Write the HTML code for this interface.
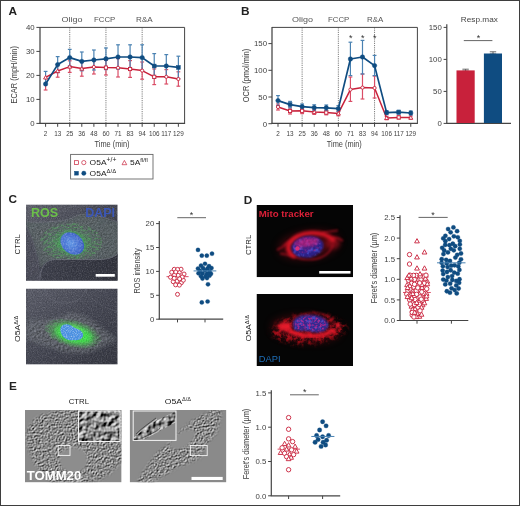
<!DOCTYPE html>
<html><head><meta charset="utf-8"><title>Figure</title>
<style>
html,body{margin:0;padding:0;background:#fff;}
body{width:520px;height:506px;overflow:hidden;position:relative;}
svg{color-interpolation-filters:sRGB;display:block;position:absolute;left:0;top:0;font-family:"Liberation Sans",sans-serif;}
#frame{position:absolute;left:0;top:0;width:520px;height:506px;box-sizing:border-box;border-style:solid;border-color:#3e3e3e;border-width:1px 1.4px 1.4px 1px;pointer-events:none;}
</style></head><body>
<svg width="520" height="506" viewBox="0 0 520 506">
<rect width="520" height="506" fill="#fff"/>
<defs>
  <filter id="blur05" x="-20%" y="-20%" width="140%" height="140%"><feGaussianBlur stdDeviation="0.6"/></filter>
  <filter id="blur1" x="-20%" y="-20%" width="140%" height="140%"><feGaussianBlur stdDeviation="1"/></filter>
  <filter id="blur2" x="-30%" y="-30%" width="160%" height="160%"><feGaussianBlur stdDeviation="2.2"/></filter>
  <filter id="blur4" x="-40%" y="-40%" width="180%" height="180%"><feGaussianBlur stdDeviation="4"/></filter>
  <filter id="blur6" x="-50%" y="-50%" width="200%" height="200%"><feGaussianBlur stdDeviation="6"/></filter>
  <!-- white / black grain -->
  <filter id="grainW" x="0" y="0" width="100%" height="100%">
    <feTurbulence type="fractalNoise" baseFrequency="0.8" numOctaves="2" seed="4" result="n"/>
    <feColorMatrix in="n" type="matrix" values="0 0 0 0 1  0 0 0 0 1  0 0 0 0 1  2.2 0 0 0 -0.95" result="c"/>
    <feComposite in="c" in2="SourceGraphic" operator="in"/>
  </filter>
  <filter id="grainK" x="0" y="0" width="100%" height="100%">
    <feTurbulence type="fractalNoise" baseFrequency="0.8" numOctaves="2" seed="9" result="n"/>
    <feColorMatrix in="n" type="matrix" values="0 0 0 0 0  0 0 0 0 0  0 0 0 0 0  2.2 0 0 0 -0.95" result="c"/>
    <feComposite in="c" in2="SourceGraphic" operator="in"/>
  </filter>
  <!-- streaky green fibres -->
  <filter id="fibG" x="0" y="0" width="100%" height="100%">
    <feTurbulence type="fractalNoise" baseFrequency="0.25 0.7" numOctaves="2" seed="21" result="n"/>
    <feColorMatrix in="n" type="matrix" values="0 0 0 0 0.33  0 0 0 0 0.75  0 0 0 0 0.36  5 0 0 0 -2.3" result="c"/>
    <feComposite in="c" in2="SourceGraphic" operator="in"/>
  </filter>
  <!-- embossed texture (DIC-like) -->
  <filter id="emboss" x="-5%" y="-5%" width="110%" height="110%" color-interpolation-filters="sRGB">
    <feTurbulence type="fractalNoise" baseFrequency="0.87" numOctaves="2" seed="12" result="n"/>
    <feDiffuseLighting in="n" surfaceScale="1.6" diffuseConstant="1" lighting-color="#ffffff" result="l">
      <feDistantLight azimuth="225" elevation="33"/>
    </feDiffuseLighting>
    <feGaussianBlur in="SourceAlpha" stdDeviation="1.6" result="m"/>
    <feComposite in="l" in2="m" operator="in"/>
  </filter>
  <filter id="embossC" x="-5%" y="-5%" width="110%" height="110%" color-interpolation-filters="sRGB">
    <feTurbulence type="fractalNoise" baseFrequency="0.45 0.6" numOctaves="2" seed="31" result="n"/>
    <feDiffuseLighting in="n" surfaceScale="1.6" diffuseConstant="1" lighting-color="#e8ecff" result="l">
      <feDistantLight azimuth="225" elevation="33"/>
    </feDiffuseLighting>
    <feGaussianBlur in="SourceAlpha" stdDeviation="2" result="m"/>
    <feComposite in="l" in2="m" operator="in"/>
  </filter>
  <filter id="embossBig" x="0" y="0" width="100%" height="100%" color-interpolation-filters="sRGB">
    <feTurbulence type="fractalNoise" baseFrequency="0.2" numOctaves="2" seed="5" result="n"/>
    <feDiffuseLighting in="n" surfaceScale="2.4" diffuseConstant="1" lighting-color="#ffffff" result="l">
      <feDistantLight azimuth="225" elevation="33"/>
    </feDiffuseLighting>
    <feComposite in="l" in2="SourceAlpha" operator="in"/>
  </filter>
  <filter id="redSpeck" x="-10%" y="-10%" width="120%" height="120%">
    <feTurbulence type="fractalNoise" baseFrequency="0.4" numOctaves="3" seed="3" result="n"/>
    <feColorMatrix in="n" type="matrix" values="0 0 0 0 0.95  0 0 0 0 0.1  0 0 0 0 0.2  3.2 0 0 0 -1.35" result="c"/>
    <feGaussianBlur in="SourceAlpha" stdDeviation="1.5" result="m"/>
    <feComposite in="c" in2="m" operator="in"/>
  </filter>
  <filter id="redBlob" x="-10%" y="-10%" width="120%" height="120%">
    <feTurbulence type="fractalNoise" baseFrequency="0.22" numOctaves="3" seed="14" result="n"/>
    <feColorMatrix in="n" type="matrix" values="0 0 0 0 0.78  0 0 0 0 0.06  0 0 0 0 0.1  4 0 0 0 -1.8" result="c"/>
    <feGaussianBlur in="SourceAlpha" stdDeviation="2" result="m"/>
    <feComposite in="c" in2="m" operator="in"/>
  </filter>
  <filter id="blueSpeck" x="-10%" y="-10%" width="120%" height="120%">
    <feTurbulence type="fractalNoise" baseFrequency="0.3" numOctaves="2" seed="17" result="n"/>
    <feColorMatrix in="n" type="matrix" values="0 0 0 0 0.36  0 0 0 0 0.4  0 0 0 0 0.95  3.6 0 0 0 -1.65" result="c"/>
    <feGaussianBlur in="SourceAlpha" stdDeviation="1" result="m"/>
    <feComposite in="c" in2="m" operator="in"/>
  </filter>
  <filter id="blur15" x="-30%" y="-30%" width="160%" height="160%"><feGaussianBlur stdDeviation="1.5"/></filter>
  <filter id="magSpeck" x="-10%" y="-10%" width="120%" height="120%">
    <feTurbulence type="fractalNoise" baseFrequency="0.45" numOctaves="2" seed="8" result="n"/>
    <feColorMatrix in="n" type="matrix" values="0 0 0 0 0.85  0 0 0 0 0.15  0 0 0 0 0.55  3.4 0 0 0 -1.5" result="c"/>
    <feComposite in="c" in2="SourceGraphic" operator="in"/>
  </filter>
  <radialGradient id="gC1" cx="50%" cy="50%" r="50%">
    <stop offset="0" stop-color="#45b855" stop-opacity=".95"/><stop offset=".38" stop-color="#4aa35a" stop-opacity=".62"/><stop offset=".7" stop-color="#55806a" stop-opacity=".2"/><stop offset="1" stop-color="#5a7a62" stop-opacity="0"/>
  </radialGradient>
  <radialGradient id="gC2" cx="50%" cy="50%" r="50%">
    <stop offset="0" stop-color="#3fe64a" stop-opacity="1"/><stop offset=".5" stop-color="#45c84e" stop-opacity=".8"/><stop offset="1" stop-color="#5a8a60" stop-opacity="0"/>
  </radialGradient>
  <radialGradient id="nucC" cx="45%" cy="55%" r="60%">
    <stop offset="0" stop-color="#5a92e4"/><stop offset=".7" stop-color="#4068cc"/><stop offset="1" stop-color="#3757ba"/>
  </radialGradient>
  <linearGradient id="bgC1" x1="0" y1="0" x2="1" y2="1">
    <stop offset="0" stop-color="#62646f"/><stop offset=".45" stop-color="#474955"/><stop offset="1" stop-color="#2c2e38"/>
  </linearGradient>
  <linearGradient id="bgC2" x1="0" y1="0" x2="1" y2="1">
    <stop offset="0" stop-color="#5c5e6a"/><stop offset=".5" stop-color="#454753"/><stop offset="1" stop-color="#353741"/>
  </linearGradient>
  <linearGradient id="dkC1" x1="0" y1="0" x2="1" y2="0">
    <stop offset="0" stop-color="#3e404c"/><stop offset="1" stop-color="#31333d"/>
  </linearGradient>
  <clipPath id="cC1"><rect x="26" y="204.4" width="91.7" height="76.4"/></clipPath>
  <clipPath id="cC2"><rect x="26" y="288.5" width="91.7" height="76.1"/></clipPath>
  <clipPath id="cD1"><rect x="256.5" y="205" width="96.5" height="72.2"/></clipPath>
  <clipPath id="cD2"><rect x="256.5" y="293.9" width="96.5" height="72.1"/></clipPath>
  <clipPath id="cE1"><rect x="25" y="409.9" width="96.6" height="72.5"/></clipPath>
  <clipPath id="cE2"><rect x="129.7" y="409.9" width="96.7" height="72.5"/></clipPath>
</defs>

<!-- ===== C1 ===== -->
<g clip-path="url(#cC1)">
  <rect x="26" y="204.4" width="91.7" height="76.4" fill="url(#bgC1)"/>
  <!-- cell body -->
  <path d="M26 221C34 223 42 222.5 52 221.5C62 221 70 220 77 215.5C86 212 100 216 117.7 222V257C112 261 108 263 104 263H60C50 262 44 262 41 268C38 258 34 240 26 226Z" fill="#566062" opacity=".9" filter="url(#blur1)"/>
  <path d="M26 221C34 223 42 222.5 52 221.5C62 221 70 220 77 215.5C86 212 100 216 117.7 222" fill="none" stroke="#7a7c88" stroke-width=".6" opacity=".8"/>
  <path d="M28 223C40 224 56 222 76 217C90 214 104 217 117.7 223V256C108 261 96 261 84 262H58C50 262 45 263 42 266C38 258 34 240 28 226Z" fill="#fff" filter="url(#embossC)" opacity=".13"/>
  <ellipse cx="71" cy="243" rx="34" ry="21" fill="url(#gC1)"/>
  <ellipse cx="71" cy="242" rx="31" ry="19" fill="#fff" filter="url(#fibG)" opacity=".4"/>
  <!-- dark neighbour at the bottom -->
  <path d="M40 280.8C40 268 45 259.5 56 259.5H100C108 259.5 114 257 117.7 254V280.8Z" fill="url(#dkC1)"/>
  <path d="M40 280.8C40 268 45 259.5 56 259.5H100C108 259.5 114 257 117.7 254" fill="none" stroke="#747684" stroke-width=".8" opacity=".8"/>
  <!-- left dark lobe -->
  <path d="M26 226C33 238 38 256 40 280.8H26Z" fill="#4c4e5a" opacity=".8"/>
  <path d="M26 226C33 238 38 256 40 280.8" fill="none" stroke="#6d6f7c" stroke-width=".6" opacity=".7"/>
  <rect x="26" y="204.4" width="91.7" height="76.4" fill="#fff" filter="url(#grainW)" opacity=".16"/>
  <rect x="26" y="204.4" width="91.7" height="76.4" fill="#000" filter="url(#grainK)" opacity=".2"/>
  <ellipse cx="72.3" cy="243.5" rx="13.4" ry="10.6" transform="rotate(38 72.3 243.5)" fill="#3fae58" opacity=".9" filter="url(#blur1)"/>
  <ellipse cx="72.3" cy="243.5" rx="12.8" ry="10.1" transform="rotate(38 72.3 243.5)" fill="url(#nucC)"/>
  <ellipse cx="72.3" cy="243.5" rx="12.8" ry="10.1" transform="rotate(38 72.3 243.5)" fill="#9fd8ff" filter="url(#grainW)" opacity=".45"/>
  <rect x="95.7" y="274" width="19.1" height="2.7" fill="#fff"/>
  <text x="31" y="216.7" font-size="12" font-weight="bold" fill="#6cc04a" textLength="27.2" lengthAdjust="spacingAndGlyphs">ROS</text>
  <text x="85.2" y="216.7" font-size="12" font-weight="bold" fill="#3c58b8" textLength="29.8" lengthAdjust="spacingAndGlyphs">DAPI</text>
</g>

<!-- ===== C2 ===== -->
<g clip-path="url(#cC2)">
  <rect x="26" y="288.5" width="91.7" height="76.1" fill="url(#bgC2)"/>
  <path d="M44 288.5C46 300 58 304 68 303C78 302 84 296 86 288.5" fill="none" stroke="#737582" stroke-width=".6" opacity=".7"/>
  <path d="M86 292C92 300 100 306 117.7 312" fill="none" stroke="#6a6c79" stroke-width=".6" opacity=".6"/>
  <path d="M26 321C38 318 52 322 64 315C76 309 90 318 102 328C108 333 114 337 117.7 339C108 344 98 351 84 353C66 355 46 347 26 339Z" fill="#62686c" opacity=".45" filter="url(#blur2)"/>
  <path d="M26 321C38 318 52 322 64 315C76 309 90 318 102 328C108 333 114 337 117.7 339C108 344 98 351 84 353C66 355 46 347 26 339Z" fill="#fff" filter="url(#embossC)" opacity=".26"/>
  <ellipse cx="73" cy="333.5" rx="30" ry="14" transform="rotate(14 73 333.5)" fill="url(#gC2)"/>
  <ellipse cx="74" cy="334.5" rx="19" ry="8.5" transform="rotate(14 74 334.5)" fill="#41ea4c" opacity=".85" filter="url(#blur2)"/>
  <ellipse cx="72" cy="331" rx="10" ry="4" transform="rotate(14 72 331)" fill="#c8ffb0" opacity=".55" filter="url(#blur2)"/>
  <ellipse cx="73" cy="333.5" rx="29" ry="13" transform="rotate(14 73 333.5)" fill="#fff" filter="url(#fibG)" opacity=".35"/>
  <rect x="26" y="288.5" width="91.7" height="76.1" fill="#fff" filter="url(#grainW)" opacity=".16"/>
  <rect x="26" y="288.5" width="91.7" height="76.1" fill="#000" filter="url(#grainK)" opacity=".2"/>
  <path d="M61 327C64 323 70 324 73 327C77 329 82 330 83 334C84 338 79 341 74 340C69 341 64 339 62 335C60 332 60 329 61 327Z" fill="#4a8fe0" filter="url(#blur05)"/>
  <path d="M61 327C64 323 70 324 73 327C77 329 82 330 83 334C84 338 79 341 74 340C69 341 64 339 62 335C60 332 60 329 61 327Z" fill="#b8ecff" filter="url(#grainW)" opacity=".55"/>
</g>

<!-- ===== D1 ===== -->
<g clip-path="url(#cD1)">
  <rect x="256.5" y="205" width="96.5" height="72.2" fill="#050505"/>
  <ellipse cx="309" cy="245" rx="30" ry="13" transform="rotate(-8 309 245)" fill="#8e0c18" opacity=".5" filter="url(#blur4)"/>
  <path d="M277 250C283 247 288 244 294 240M280 253.5C285 254 290 255 295 257M283 246C287 242 292 239 298 236.5M322 233C328 231.5 333 231 338 230.5M332 238C336 237.5 340 238.5 343 241" stroke="#b81222" stroke-width="2" fill="none" filter="url(#blur1)" opacity=".65"/>
  <ellipse cx="333" cy="243" rx="7" ry="6" fill="#c01424" opacity=".5" filter="url(#blur2)"/>
  <path d="M294 256C288 253 287 247 290 243C294 237 302 233.5 311 233C320 232.5 328 235 333 240" stroke="#dc1626" stroke-width="4.4" fill="none" stroke-linecap="round" filter="url(#blur15)" opacity=".92"/>
  <path d="M294 256C300 260 314 261 322 257C328 254 332 249 333 244" stroke="#a01020" stroke-width="1.6" fill="none" filter="url(#blur1)" opacity=".85"/>
  <ellipse cx="307.5" cy="246.8" rx="16" ry="10.6" transform="rotate(-8 307.5 246.8)" fill="#2b2188" filter="url(#blur1)"/>
  <ellipse cx="307.5" cy="247.5" rx="15" ry="9.6" transform="rotate(-8 307.5 247.5)" fill="#fff" filter="url(#blueSpeck)" opacity=".6"/>
  <ellipse cx="307" cy="242.5" rx="12" ry="4.6" transform="rotate(-8 307 242.5)" fill="#d61e6e" opacity=".6" filter="url(#blur15)"/>
  <ellipse cx="307" cy="245" rx="14" ry="8" transform="rotate(-8 307 245)" fill="#fff" filter="url(#magSpeck)" opacity=".45"/>
  <circle cx="297.5" cy="248.5" r="2.2" fill="#e8307a" opacity=".9" filter="url(#blur05)"/>
  <rect x="319.2" y="271" width="31.3" height="2.6" fill="#fff"/>
  <text x="258.8" y="216.5" font-size="8.6" font-weight="bold" fill="#dc2038" textLength="54.8" lengthAdjust="spacingAndGlyphs">Mito tracker</text>
</g>

<!-- ===== D2 ===== -->
<g clip-path="url(#cD2)">
  <rect x="256.5" y="293.9" width="96.5" height="72.1" fill="#050505"/>
  <ellipse cx="306" cy="329" rx="34" ry="12.5" transform="rotate(4 306 329)" fill="#7a0c16" opacity=".5" filter="url(#blur4)"/>
  <path d="M270 331C276 319 296 312 316 313C332 314 344 321 348 328C342 338 324 345 304 345C288 345 272 340 270 331Z" fill="#fff" filter="url(#redBlob)" opacity=".7"/>
  <path d="M274 331C280 321 296 316 316 316.5C330 317 340 322 343 329C338 337 322 342 304 342C290 342 276 338 274 331Z" fill="#fff" filter="url(#redSpeck)" opacity=".35"/>
  <ellipse cx="285" cy="326.5" rx="6.5" ry="4.2" fill="#ea1c2c" filter="url(#blur15)" opacity=".95"/>
  <path d="M289 331C296 334 304 336 312 336C320 336 328 334 334 330" stroke="#e41a2a" stroke-width="4.5" fill="none" stroke-linecap="round" filter="url(#blur15)" opacity=".95"/>
  <path d="M293 320C298 314 310 312 320 313.5C328 315 333 320 335 325" stroke="#a01020" stroke-width="1.6" fill="none" filter="url(#blur1)" opacity=".8"/>
  <circle cx="338.5" cy="325.5" r="2.2" fill="#e01c2c" filter="url(#blur1)" opacity=".9"/>
  <path d="M293 324C293 318 300 315 310 315C320 315 328 319 328 325C328 330 322 333 314 332C308 331 304 330 299 331C295 331 293 328 293 324Z" fill="#33288e" filter="url(#blur1)"/>
  <path d="M293 324C293 318 300 315 310 315C320 315 328 319 328 325C328 330 322 333 314 332C308 331 304 330 299 331C295 331 293 328 293 324Z" fill="#fff" filter="url(#blueSpeck)" opacity=".5"/>
  <path d="M295 324C295 319 301 316.5 310 316.5C319 316.5 326 320 326 325C326 329 321 331.5 314 330.5C308 329.5 304 329 299 329.5C296 329.5 295 327 295 324Z" fill="#fff" filter="url(#magSpeck)" opacity=".7"/>
  <text x="258.8" y="361.6" font-size="8.3" fill="#1f6fb8" textLength="21.8" lengthAdjust="spacingAndGlyphs">DAPI</text>
</g>

<!-- ===== E1 ===== -->
<g clip-path="url(#cE1)">
  <rect x="25" y="409.9" width="96.6" height="72.5" fill="#8a8a8a"/>
  <path d="M29 426C36 414 50 409.9 72 409.9H121.6V462C114 472 102 482.4 86 482.4H52C40 474 32 462 28 448C26 440 26 432 29 426Z" fill="#8a8a8a" filter="url(#emboss)"/>
  <ellipse cx="73.5" cy="460" rx="14" ry="12.6" fill="#8d8d8d" filter="url(#blur1)"/>
  <path d="M60 457C62 449.5 68 447 74.5 447.4C82.5 448 87.5 453.5 87.3 460" fill="none" stroke="#a4a4a4" stroke-width=".7"/>
  <rect x="78.5" y="411" width="41.5" height="30.5" fill="#8a8a8a" filter="url(#embossBig)"/>
  <rect x="78.5" y="411" width="41.5" height="30.5" fill="none" stroke="#f4f4f4" stroke-width="1"/>
  <rect x="58.2" y="445.5" width="11.8" height="9.9" fill="none" stroke="#f4f4f4" stroke-width=".9"/>
  <text x="26.8" y="480.3" font-size="12" font-weight="bold" fill="#fff" textLength="54.4" lengthAdjust="spacingAndGlyphs">TOMM20</text>
</g>

<!-- ===== E2 ===== -->
<g clip-path="url(#cE2)">
  <rect x="129.7" y="409.9" width="96.7" height="72.5" fill="#8a8a8a"/>
  <path d="M137 482.4C145 470 150 460 156 454C162 448 170 444 176 436C182 428 190 422 198 417C204 414 208 412 212 409.9H222C221 418 219 426 217 432C214 437 210 440 207 443C205 448 203 454 200 458C194 462 186 464 178 467C170 471 164 476 158 479L152 482.4Z" fill="#8a8a8a" filter="url(#emboss)"/>
  <ellipse cx="182.5" cy="439.5" rx="14.5" ry="7.6" transform="rotate(-33 182.5 439.5)" fill="#8d8d8d" filter="url(#blur1)"/>
  <rect x="133.2" y="411" width="42.8" height="29.4" fill="#8a8a8a"/>
  <path d="M133.2 438L150 424L176 411V422L160 431L142 440.4H133.2Z" fill="#8a8a8a" filter="url(#embossBig)"/>
  <path d="M136 434C142 428 148 424 156 418M142 438C150 434 156 432 160 428" stroke="#2a2a2a" stroke-width=".9" fill="none" opacity=".7"/>
  <path d="M137 435C143 429 149 425 157 419M143 439C151 435 157 433 161 429" stroke="#eee" stroke-width=".7" fill="none" opacity=".8"/>
  <rect x="133.2" y="411" width="42.8" height="29.4" fill="none" stroke="#f4f4f4" stroke-width="1"/>
  <rect x="190.4" y="445.5" width="16.8" height="10.1" fill="none" stroke="#f4f4f4" stroke-width=".9"/>
  <rect x="191.5" y="476.9" width="31.2" height="3.1" fill="#fff"/>
</g>

<text x="8.6" y="14.9" font-size="11.8" font-weight="bold" fill="#222">A</text>
<text x="241" y="14.9" font-size="11.8" font-weight="bold" fill="#222">B</text>
<text x="8.6" y="203.2" font-size="11.8" font-weight="bold" fill="#222">C</text>
<text x="243.8" y="203.8" font-size="11.8" font-weight="bold" fill="#222">D</text>
<text x="9.0" y="390.2" font-size="11.8" font-weight="bold" fill="#222">E</text>
<line x1="69.74" y1="27.40" x2="69.74" y2="123.40" stroke="#707070" stroke-width="0.9" stroke-dasharray="1.2 1"/>
<line x1="105.95" y1="27.40" x2="105.95" y2="123.40" stroke="#707070" stroke-width="0.9" stroke-dasharray="1.2 1"/>
<line x1="142.16" y1="27.40" x2="142.16" y2="123.40" stroke="#707070" stroke-width="0.9" stroke-dasharray="1.2 1"/>
<line x1="45.60" y1="77.40" x2="45.60" y2="90.00" stroke="#da4d66" stroke-width="1.2"/>
<line x1="43.70" y1="90.00" x2="47.50" y2="90.00" stroke="#da4d66" stroke-width="1.2"/>
<line x1="57.67" y1="64.80" x2="57.67" y2="77.20" stroke="#da4d66" stroke-width="1.2"/>
<line x1="55.77" y1="64.80" x2="59.57" y2="64.80" stroke="#da4d66" stroke-width="1.2"/>
<line x1="55.77" y1="77.20" x2="59.57" y2="77.20" stroke="#da4d66" stroke-width="1.2"/>
<line x1="69.74" y1="60.80" x2="69.74" y2="72.40" stroke="#da4d66" stroke-width="1.2"/>
<line x1="67.84" y1="60.80" x2="71.64" y2="60.80" stroke="#da4d66" stroke-width="1.2"/>
<line x1="67.84" y1="72.40" x2="71.64" y2="72.40" stroke="#da4d66" stroke-width="1.2"/>
<line x1="81.81" y1="61.00" x2="81.81" y2="76.20" stroke="#da4d66" stroke-width="1.2"/>
<line x1="79.91" y1="61.00" x2="83.71" y2="61.00" stroke="#da4d66" stroke-width="1.2"/>
<line x1="79.91" y1="76.20" x2="83.71" y2="76.20" stroke="#da4d66" stroke-width="1.2"/>
<line x1="93.88" y1="60.00" x2="93.88" y2="74.00" stroke="#da4d66" stroke-width="1.2"/>
<line x1="91.98" y1="60.00" x2="95.78" y2="60.00" stroke="#da4d66" stroke-width="1.2"/>
<line x1="91.98" y1="74.00" x2="95.78" y2="74.00" stroke="#da4d66" stroke-width="1.2"/>
<line x1="105.95" y1="60.20" x2="105.95" y2="75.00" stroke="#da4d66" stroke-width="1.2"/>
<line x1="104.05" y1="60.20" x2="107.85" y2="60.20" stroke="#da4d66" stroke-width="1.2"/>
<line x1="104.05" y1="75.00" x2="107.85" y2="75.00" stroke="#da4d66" stroke-width="1.2"/>
<line x1="118.02" y1="58.60" x2="118.02" y2="77.00" stroke="#da4d66" stroke-width="1.2"/>
<line x1="116.12" y1="58.60" x2="119.92" y2="58.60" stroke="#da4d66" stroke-width="1.2"/>
<line x1="116.12" y1="77.00" x2="119.92" y2="77.00" stroke="#da4d66" stroke-width="1.2"/>
<line x1="130.09" y1="60.60" x2="130.09" y2="77.40" stroke="#da4d66" stroke-width="1.2"/>
<line x1="128.19" y1="60.60" x2="131.99" y2="60.60" stroke="#da4d66" stroke-width="1.2"/>
<line x1="128.19" y1="77.40" x2="131.99" y2="77.40" stroke="#da4d66" stroke-width="1.2"/>
<line x1="142.16" y1="62.00" x2="142.16" y2="79.20" stroke="#da4d66" stroke-width="1.2"/>
<line x1="140.26" y1="62.00" x2="144.06" y2="62.00" stroke="#da4d66" stroke-width="1.2"/>
<line x1="140.26" y1="79.20" x2="144.06" y2="79.20" stroke="#da4d66" stroke-width="1.2"/>
<line x1="154.23" y1="69.00" x2="154.23" y2="84.60" stroke="#da4d66" stroke-width="1.2"/>
<line x1="152.33" y1="69.00" x2="156.13" y2="69.00" stroke="#da4d66" stroke-width="1.2"/>
<line x1="152.33" y1="84.60" x2="156.13" y2="84.60" stroke="#da4d66" stroke-width="1.2"/>
<line x1="166.30" y1="69.60" x2="166.30" y2="84.00" stroke="#da4d66" stroke-width="1.2"/>
<line x1="164.40" y1="69.60" x2="168.20" y2="69.60" stroke="#da4d66" stroke-width="1.2"/>
<line x1="164.40" y1="84.00" x2="168.20" y2="84.00" stroke="#da4d66" stroke-width="1.2"/>
<line x1="178.37" y1="71.80" x2="178.37" y2="86.20" stroke="#da4d66" stroke-width="1.2"/>
<line x1="176.47" y1="71.80" x2="180.27" y2="71.80" stroke="#da4d66" stroke-width="1.2"/>
<line x1="176.47" y1="86.20" x2="180.27" y2="86.20" stroke="#da4d66" stroke-width="1.2"/>
<line x1="45.60" y1="71.40" x2="45.60" y2="84.00" stroke="#4a82b2" stroke-width="1.2"/>
<line x1="43.70" y1="71.40" x2="47.50" y2="71.40" stroke="#4a82b2" stroke-width="1.2"/>
<line x1="57.67" y1="56.60" x2="57.67" y2="72.60" stroke="#4a82b2" stroke-width="1.2"/>
<line x1="55.77" y1="56.60" x2="59.57" y2="56.60" stroke="#4a82b2" stroke-width="1.2"/>
<line x1="55.77" y1="72.60" x2="59.57" y2="72.60" stroke="#4a82b2" stroke-width="1.2"/>
<line x1="69.74" y1="49.40" x2="69.74" y2="65.80" stroke="#4a82b2" stroke-width="1.2"/>
<line x1="67.84" y1="49.40" x2="71.64" y2="49.40" stroke="#4a82b2" stroke-width="1.2"/>
<line x1="67.84" y1="65.80" x2="71.64" y2="65.80" stroke="#4a82b2" stroke-width="1.2"/>
<line x1="81.81" y1="52.00" x2="81.81" y2="70.80" stroke="#4a82b2" stroke-width="1.2"/>
<line x1="79.91" y1="52.00" x2="83.71" y2="52.00" stroke="#4a82b2" stroke-width="1.2"/>
<line x1="79.91" y1="70.80" x2="83.71" y2="70.80" stroke="#4a82b2" stroke-width="1.2"/>
<line x1="93.88" y1="50.00" x2="93.88" y2="70.00" stroke="#4a82b2" stroke-width="1.2"/>
<line x1="91.98" y1="50.00" x2="95.78" y2="50.00" stroke="#4a82b2" stroke-width="1.2"/>
<line x1="91.98" y1="70.00" x2="95.78" y2="70.00" stroke="#4a82b2" stroke-width="1.2"/>
<line x1="105.95" y1="48.00" x2="105.95" y2="69.60" stroke="#4a82b2" stroke-width="1.2"/>
<line x1="104.05" y1="48.00" x2="107.85" y2="48.00" stroke="#4a82b2" stroke-width="1.2"/>
<line x1="104.05" y1="69.60" x2="107.85" y2="69.60" stroke="#4a82b2" stroke-width="1.2"/>
<line x1="118.02" y1="44.80" x2="118.02" y2="69.20" stroke="#4a82b2" stroke-width="1.2"/>
<line x1="116.12" y1="44.80" x2="119.92" y2="44.80" stroke="#4a82b2" stroke-width="1.2"/>
<line x1="116.12" y1="69.20" x2="119.92" y2="69.20" stroke="#4a82b2" stroke-width="1.2"/>
<line x1="130.09" y1="44.80" x2="130.09" y2="69.20" stroke="#4a82b2" stroke-width="1.2"/>
<line x1="128.19" y1="44.80" x2="131.99" y2="44.80" stroke="#4a82b2" stroke-width="1.2"/>
<line x1="128.19" y1="69.20" x2="131.99" y2="69.20" stroke="#4a82b2" stroke-width="1.2"/>
<line x1="142.16" y1="44.80" x2="142.16" y2="70.40" stroke="#4a82b2" stroke-width="1.2"/>
<line x1="140.26" y1="44.80" x2="144.06" y2="44.80" stroke="#4a82b2" stroke-width="1.2"/>
<line x1="140.26" y1="70.40" x2="144.06" y2="70.40" stroke="#4a82b2" stroke-width="1.2"/>
<line x1="154.23" y1="53.60" x2="154.23" y2="78.40" stroke="#4a82b2" stroke-width="1.2"/>
<line x1="152.33" y1="53.60" x2="156.13" y2="53.60" stroke="#4a82b2" stroke-width="1.2"/>
<line x1="152.33" y1="78.40" x2="156.13" y2="78.40" stroke="#4a82b2" stroke-width="1.2"/>
<line x1="166.30" y1="54.60" x2="166.30" y2="77.40" stroke="#4a82b2" stroke-width="1.2"/>
<line x1="164.40" y1="54.60" x2="168.20" y2="54.60" stroke="#4a82b2" stroke-width="1.2"/>
<line x1="164.40" y1="77.40" x2="168.20" y2="77.40" stroke="#4a82b2" stroke-width="1.2"/>
<line x1="178.37" y1="56.20" x2="178.37" y2="78.60" stroke="#4a82b2" stroke-width="1.2"/>
<line x1="176.47" y1="56.20" x2="180.27" y2="56.20" stroke="#4a82b2" stroke-width="1.2"/>
<line x1="176.47" y1="78.60" x2="180.27" y2="78.60" stroke="#4a82b2" stroke-width="1.2"/>
<polyline points="45.60,77.40 57.67,71.00 69.74,66.60 81.81,68.60 93.88,67.00 105.95,67.60 118.02,67.80 130.09,69.00 142.16,70.60 154.23,76.80 166.30,76.80 178.37,79.00" fill="none" stroke="#c8213b" stroke-width="1.5" stroke-linejoin="round"/>
<polyline points="45.60,84.00 57.67,64.60 69.74,57.60 81.81,61.40 93.88,60.00 105.95,58.80 118.02,57.00 130.09,57.00 142.16,57.60 154.23,66.00 166.30,66.00 178.37,67.40" fill="none" stroke="#0f4c81" stroke-width="1.7" stroke-linejoin="round"/>
<path d="M45.60 75.40L47.60 79.00L43.60 79.00Z" fill="#fff" stroke="#c8213b" stroke-width="0.9" stroke-linejoin="miter"/>
<path d="M57.67 69.00L59.67 72.60L55.67 72.60Z" fill="#fff" stroke="#c8213b" stroke-width="0.9" stroke-linejoin="miter"/>
<path d="M69.74 64.60L71.74 68.20L67.74 68.20Z" fill="#fff" stroke="#c8213b" stroke-width="0.9" stroke-linejoin="miter"/>
<path d="M81.81 66.60L83.81 70.20L79.81 70.20Z" fill="#fff" stroke="#c8213b" stroke-width="0.9" stroke-linejoin="miter"/>
<circle cx="93.88" cy="67.00" r="1.60" fill="#fff" stroke="#c8213b" stroke-width="0.9"/>
<rect x="104.35" y="66.00" width="3.20" height="3.20" fill="#fff" stroke="#c8213b" stroke-width="0.9"/>
<circle cx="118.02" cy="67.80" r="1.60" fill="#fff" stroke="#c8213b" stroke-width="0.9"/>
<rect x="128.49" y="67.40" width="3.20" height="3.20" fill="#fff" stroke="#c8213b" stroke-width="0.9"/>
<circle cx="142.16" cy="70.60" r="1.60" fill="#fff" stroke="#c8213b" stroke-width="0.9"/>
<rect x="152.63" y="75.20" width="3.20" height="3.20" fill="#fff" stroke="#c8213b" stroke-width="0.9"/>
<circle cx="166.30" cy="76.80" r="1.60" fill="#fff" stroke="#c8213b" stroke-width="0.9"/>
<circle cx="178.37" cy="79.00" r="1.60" fill="#fff" stroke="#c8213b" stroke-width="0.9"/>
<circle cx="45.60" cy="84.00" r="2.20" fill="#0f4c81" stroke="#0f4c81" stroke-width="0.5"/>
<circle cx="57.67" cy="64.60" r="2.20" fill="#0f4c81" stroke="#0f4c81" stroke-width="0.5"/>
<circle cx="69.74" cy="57.60" r="2.20" fill="#0f4c81" stroke="#0f4c81" stroke-width="0.5"/>
<circle cx="81.81" cy="61.40" r="2.20" fill="#0f4c81" stroke="#0f4c81" stroke-width="0.5"/>
<circle cx="93.88" cy="60.00" r="2.20" fill="#0f4c81" stroke="#0f4c81" stroke-width="0.5"/>
<circle cx="105.95" cy="58.80" r="2.20" fill="#0f4c81" stroke="#0f4c81" stroke-width="0.5"/>
<circle cx="118.02" cy="57.00" r="2.20" fill="#0f4c81" stroke="#0f4c81" stroke-width="0.5"/>
<circle cx="130.09" cy="57.00" r="2.20" fill="#0f4c81" stroke="#0f4c81" stroke-width="0.5"/>
<circle cx="142.16" cy="57.60" r="2.20" fill="#0f4c81" stroke="#0f4c81" stroke-width="0.5"/>
<rect x="152.33" y="64.10" width="3.80" height="3.80" fill="#0f4c81" stroke="#0f4c81" stroke-width="0.5"/>
<circle cx="166.30" cy="66.00" r="2.20" fill="#0f4c81" stroke="#0f4c81" stroke-width="0.5"/>
<rect x="176.47" y="65.50" width="3.80" height="3.80" fill="#0f4c81" stroke="#0f4c81" stroke-width="0.5"/>
<path d="M40.0 27.4H184.6V123.4" fill="none" stroke="#444444" stroke-width="1"/>
<line x1="40.00" y1="26.90" x2="40.00" y2="123.40" stroke="#444444" stroke-width="1.25"/>
<line x1="39.40" y1="123.40" x2="185.10" y2="123.40" stroke="#444444" stroke-width="1.25"/>
<line x1="36.40" y1="123.40" x2="40.00" y2="123.40" stroke="#444444" stroke-width="1"/>
<text transform="translate(34.60,126.20)" font-size="7.8" text-anchor="end" fill="#424242">0</text>
<line x1="36.40" y1="99.40" x2="40.00" y2="99.40" stroke="#444444" stroke-width="1"/>
<text transform="translate(34.60,102.20)" font-size="7.8" text-anchor="end" fill="#424242">10</text>
<line x1="36.40" y1="75.40" x2="40.00" y2="75.40" stroke="#444444" stroke-width="1"/>
<text transform="translate(34.60,78.20)" font-size="7.8" text-anchor="end" fill="#424242">20</text>
<line x1="36.40" y1="51.40" x2="40.00" y2="51.40" stroke="#444444" stroke-width="1"/>
<text transform="translate(34.60,54.20)" font-size="7.8" text-anchor="end" fill="#424242">30</text>
<line x1="36.40" y1="27.40" x2="40.00" y2="27.40" stroke="#444444" stroke-width="1"/>
<text transform="translate(34.60,30.20)" font-size="7.8" text-anchor="end" fill="#424242">40</text>
<line x1="45.60" y1="123.40" x2="45.60" y2="126.80" stroke="#444444" stroke-width="1"/>
<text transform="translate(45.60,135.80) scale(0.84,1)" font-size="7.6" text-anchor="middle" fill="#424242">2</text>
<line x1="57.67" y1="123.40" x2="57.67" y2="126.80" stroke="#444444" stroke-width="1"/>
<text transform="translate(57.67,135.80) scale(0.84,1)" font-size="7.6" text-anchor="middle" fill="#424242">13</text>
<line x1="69.74" y1="123.40" x2="69.74" y2="126.80" stroke="#444444" stroke-width="1"/>
<text transform="translate(69.74,135.80) scale(0.84,1)" font-size="7.6" text-anchor="middle" fill="#424242">25</text>
<line x1="81.81" y1="123.40" x2="81.81" y2="126.80" stroke="#444444" stroke-width="1"/>
<text transform="translate(81.81,135.80) scale(0.84,1)" font-size="7.6" text-anchor="middle" fill="#424242">36</text>
<line x1="93.88" y1="123.40" x2="93.88" y2="126.80" stroke="#444444" stroke-width="1"/>
<text transform="translate(93.88,135.80) scale(0.84,1)" font-size="7.6" text-anchor="middle" fill="#424242">48</text>
<line x1="105.95" y1="123.40" x2="105.95" y2="126.80" stroke="#444444" stroke-width="1"/>
<text transform="translate(105.95,135.80) scale(0.84,1)" font-size="7.6" text-anchor="middle" fill="#424242">60</text>
<line x1="118.02" y1="123.40" x2="118.02" y2="126.80" stroke="#444444" stroke-width="1"/>
<text transform="translate(118.02,135.80) scale(0.84,1)" font-size="7.6" text-anchor="middle" fill="#424242">71</text>
<line x1="130.09" y1="123.40" x2="130.09" y2="126.80" stroke="#444444" stroke-width="1"/>
<text transform="translate(130.09,135.80) scale(0.84,1)" font-size="7.6" text-anchor="middle" fill="#424242">83</text>
<line x1="142.16" y1="123.40" x2="142.16" y2="126.80" stroke="#444444" stroke-width="1"/>
<text transform="translate(142.16,135.80) scale(0.84,1)" font-size="7.6" text-anchor="middle" fill="#424242">94</text>
<line x1="154.23" y1="123.40" x2="154.23" y2="126.80" stroke="#444444" stroke-width="1"/>
<text transform="translate(154.23,135.80) scale(0.84,1)" font-size="7.6" text-anchor="middle" fill="#424242">106</text>
<line x1="166.30" y1="123.40" x2="166.30" y2="126.80" stroke="#444444" stroke-width="1"/>
<text transform="translate(166.30,135.80) scale(0.84,1)" font-size="7.6" text-anchor="middle" fill="#424242">117</text>
<line x1="178.37" y1="123.40" x2="178.37" y2="126.80" stroke="#444444" stroke-width="1"/>
<text transform="translate(178.37,135.80) scale(0.84,1)" font-size="7.6" text-anchor="middle" fill="#424242">129</text>
<text transform="translate(112.00,146.60) scale(0.88,1)" font-size="8.4" text-anchor="middle" fill="#424242">Time (min)</text>
<text transform="translate(17.40,74.80) rotate(-90) scale(0.887,1)" font-size="8.4" text-anchor="middle" fill="#424242">ECAR (mpH/min)</text>
<text transform="translate(71.90,22.00) scale(1.2,1)" font-size="7.5" text-anchor="middle" fill="#555">Oligo</text>
<text transform="translate(104.60,22.00) scale(1.05,1)" font-size="7.5" text-anchor="middle" fill="#555">FCCP</text>
<text transform="translate(144.40,22.00) scale(1.08,1)" font-size="7.5" text-anchor="middle" fill="#555">R&amp;A</text>
<rect x="70.6" y="154.4" width="82.4" height="24.6" fill="#fff" stroke="#666" stroke-width="0.9"/>
<rect x="74.60" y="160.70" width="3.80" height="3.80" fill="#fff" stroke="#c8213b" stroke-width="0.7"/>
<circle cx="83.80" cy="162.60" r="2.10" fill="#fff" stroke="#c8213b" stroke-width="0.7"/>
<rect x="74.60" y="171.30" width="3.80" height="3.80" fill="#0f4c81" stroke="#0f4c81" stroke-width="0.5"/>
<circle cx="83.80" cy="173.20" r="2.20" fill="#0f4c81" stroke="#0f4c81" stroke-width="0.3"/>
<text transform="translate(89.6,165.2) scale(1.06,1)" font-size="8" fill="#222">O5A<tspan dy="-2.9" font-size="6.4">+/+</tspan></text>
<path d="M124.40 160.43L126.78 164.70L122.03 164.70Z" fill="#fff" stroke="#c8213b" stroke-width="0.7" stroke-linejoin="miter"/>
<text transform="translate(130,165.2) scale(1.06,1)" font-size="8" fill="#222">5A<tspan dy="-2.9" font-size="5.4">fl/fl</tspan></text>
<text transform="translate(89.6,175.9) scale(1.06,1)" font-size="8" fill="#222">O5A<tspan dy="-2.9" font-size="5.6">Δ/Δ</tspan></text>
<line x1="302.14" y1="27.40" x2="302.14" y2="123.40" stroke="#707070" stroke-width="0.9" stroke-dasharray="1.2 1"/>
<line x1="338.35" y1="27.40" x2="338.35" y2="123.40" stroke="#707070" stroke-width="0.9" stroke-dasharray="1.2 1"/>
<line x1="374.56" y1="27.40" x2="374.56" y2="123.40" stroke="#707070" stroke-width="0.9" stroke-dasharray="1.2 1"/>
<line x1="278.00" y1="104.00" x2="278.00" y2="110.00" stroke="#da4d66" stroke-width="1.2"/>
<line x1="276.10" y1="104.00" x2="279.90" y2="104.00" stroke="#da4d66" stroke-width="1.2"/>
<line x1="276.10" y1="110.00" x2="279.90" y2="110.00" stroke="#da4d66" stroke-width="1.2"/>
<line x1="290.07" y1="108.00" x2="290.07" y2="114.00" stroke="#da4d66" stroke-width="1.2"/>
<line x1="288.17" y1="108.00" x2="291.97" y2="108.00" stroke="#da4d66" stroke-width="1.2"/>
<line x1="288.17" y1="114.00" x2="291.97" y2="114.00" stroke="#da4d66" stroke-width="1.2"/>
<line x1="302.14" y1="108.00" x2="302.14" y2="113.60" stroke="#da4d66" stroke-width="1.2"/>
<line x1="300.24" y1="108.00" x2="304.04" y2="108.00" stroke="#da4d66" stroke-width="1.2"/>
<line x1="300.24" y1="113.60" x2="304.04" y2="113.60" stroke="#da4d66" stroke-width="1.2"/>
<line x1="314.21" y1="109.60" x2="314.21" y2="114.40" stroke="#da4d66" stroke-width="1.2"/>
<line x1="312.31" y1="109.60" x2="316.11" y2="109.60" stroke="#da4d66" stroke-width="1.2"/>
<line x1="312.31" y1="114.40" x2="316.11" y2="114.40" stroke="#da4d66" stroke-width="1.2"/>
<line x1="326.28" y1="110.40" x2="326.28" y2="114.80" stroke="#da4d66" stroke-width="1.2"/>
<line x1="324.38" y1="110.40" x2="328.18" y2="110.40" stroke="#da4d66" stroke-width="1.2"/>
<line x1="324.38" y1="114.80" x2="328.18" y2="114.80" stroke="#da4d66" stroke-width="1.2"/>
<line x1="338.35" y1="111.00" x2="338.35" y2="115.80" stroke="#da4d66" stroke-width="1.2"/>
<line x1="336.45" y1="111.00" x2="340.25" y2="111.00" stroke="#da4d66" stroke-width="1.2"/>
<line x1="336.45" y1="115.80" x2="340.25" y2="115.80" stroke="#da4d66" stroke-width="1.2"/>
<line x1="350.42" y1="77.00" x2="350.42" y2="101.40" stroke="#da4d66" stroke-width="1.2"/>
<line x1="348.52" y1="77.00" x2="352.32" y2="77.00" stroke="#da4d66" stroke-width="1.2"/>
<line x1="348.52" y1="101.40" x2="352.32" y2="101.40" stroke="#da4d66" stroke-width="1.2"/>
<line x1="362.49" y1="74.00" x2="362.49" y2="99.00" stroke="#da4d66" stroke-width="1.2"/>
<line x1="360.59" y1="74.00" x2="364.39" y2="74.00" stroke="#da4d66" stroke-width="1.2"/>
<line x1="360.59" y1="99.00" x2="364.39" y2="99.00" stroke="#da4d66" stroke-width="1.2"/>
<line x1="374.56" y1="76.00" x2="374.56" y2="98.00" stroke="#da4d66" stroke-width="1.2"/>
<line x1="372.66" y1="76.00" x2="376.46" y2="76.00" stroke="#da4d66" stroke-width="1.2"/>
<line x1="372.66" y1="98.00" x2="376.46" y2="98.00" stroke="#da4d66" stroke-width="1.2"/>
<line x1="386.63" y1="116.40" x2="386.63" y2="119.60" stroke="#da4d66" stroke-width="1.2"/>
<line x1="384.73" y1="116.40" x2="388.53" y2="116.40" stroke="#da4d66" stroke-width="1.2"/>
<line x1="384.73" y1="119.60" x2="388.53" y2="119.60" stroke="#da4d66" stroke-width="1.2"/>
<line x1="398.70" y1="115.80" x2="398.70" y2="119.00" stroke="#da4d66" stroke-width="1.2"/>
<line x1="396.80" y1="115.80" x2="400.60" y2="115.80" stroke="#da4d66" stroke-width="1.2"/>
<line x1="396.80" y1="119.00" x2="400.60" y2="119.00" stroke="#da4d66" stroke-width="1.2"/>
<line x1="410.77" y1="116.00" x2="410.77" y2="119.20" stroke="#da4d66" stroke-width="1.2"/>
<line x1="408.87" y1="116.00" x2="412.67" y2="116.00" stroke="#da4d66" stroke-width="1.2"/>
<line x1="408.87" y1="119.20" x2="412.67" y2="119.20" stroke="#da4d66" stroke-width="1.2"/>
<line x1="278.00" y1="95.60" x2="278.00" y2="105.60" stroke="#4a82b2" stroke-width="1.2"/>
<line x1="276.10" y1="95.60" x2="279.90" y2="95.60" stroke="#4a82b2" stroke-width="1.2"/>
<line x1="276.10" y1="105.60" x2="279.90" y2="105.60" stroke="#4a82b2" stroke-width="1.2"/>
<line x1="290.07" y1="101.40" x2="290.07" y2="107.80" stroke="#4a82b2" stroke-width="1.2"/>
<line x1="288.17" y1="101.40" x2="291.97" y2="101.40" stroke="#4a82b2" stroke-width="1.2"/>
<line x1="288.17" y1="107.80" x2="291.97" y2="107.80" stroke="#4a82b2" stroke-width="1.2"/>
<line x1="302.14" y1="104.00" x2="302.14" y2="109.20" stroke="#4a82b2" stroke-width="1.2"/>
<line x1="300.24" y1="104.00" x2="304.04" y2="104.00" stroke="#4a82b2" stroke-width="1.2"/>
<line x1="300.24" y1="109.20" x2="304.04" y2="109.20" stroke="#4a82b2" stroke-width="1.2"/>
<line x1="314.21" y1="104.80" x2="314.21" y2="110.40" stroke="#4a82b2" stroke-width="1.2"/>
<line x1="312.31" y1="104.80" x2="316.11" y2="104.80" stroke="#4a82b2" stroke-width="1.2"/>
<line x1="312.31" y1="110.40" x2="316.11" y2="110.40" stroke="#4a82b2" stroke-width="1.2"/>
<line x1="326.28" y1="105.00" x2="326.28" y2="110.60" stroke="#4a82b2" stroke-width="1.2"/>
<line x1="324.38" y1="105.00" x2="328.18" y2="105.00" stroke="#4a82b2" stroke-width="1.2"/>
<line x1="324.38" y1="110.60" x2="328.18" y2="110.60" stroke="#4a82b2" stroke-width="1.2"/>
<line x1="338.35" y1="105.60" x2="338.35" y2="111.60" stroke="#4a82b2" stroke-width="1.2"/>
<line x1="336.45" y1="105.60" x2="340.25" y2="105.60" stroke="#4a82b2" stroke-width="1.2"/>
<line x1="336.45" y1="111.60" x2="340.25" y2="111.60" stroke="#4a82b2" stroke-width="1.2"/>
<line x1="350.42" y1="42.20" x2="350.42" y2="75.60" stroke="#4a82b2" stroke-width="1.2"/>
<line x1="348.52" y1="42.20" x2="352.32" y2="42.20" stroke="#4a82b2" stroke-width="1.2"/>
<line x1="348.52" y1="75.60" x2="352.32" y2="75.60" stroke="#4a82b2" stroke-width="1.2"/>
<line x1="362.49" y1="40.40" x2="362.49" y2="74.00" stroke="#4a82b2" stroke-width="1.2"/>
<line x1="360.59" y1="40.40" x2="364.39" y2="40.40" stroke="#4a82b2" stroke-width="1.2"/>
<line x1="360.59" y1="74.00" x2="364.39" y2="74.00" stroke="#4a82b2" stroke-width="1.2"/>
<line x1="374.56" y1="55.40" x2="374.56" y2="75.60" stroke="#4a82b2" stroke-width="1.2"/>
<line x1="372.66" y1="55.40" x2="376.46" y2="55.40" stroke="#4a82b2" stroke-width="1.2"/>
<line x1="372.66" y1="75.60" x2="376.46" y2="75.60" stroke="#4a82b2" stroke-width="1.2"/>
<line x1="386.63" y1="110.60" x2="386.63" y2="114.60" stroke="#4a82b2" stroke-width="1.2"/>
<line x1="384.73" y1="110.60" x2="388.53" y2="110.60" stroke="#4a82b2" stroke-width="1.2"/>
<line x1="384.73" y1="114.60" x2="388.53" y2="114.60" stroke="#4a82b2" stroke-width="1.2"/>
<line x1="398.70" y1="110.20" x2="398.70" y2="114.20" stroke="#4a82b2" stroke-width="1.2"/>
<line x1="396.80" y1="110.20" x2="400.60" y2="110.20" stroke="#4a82b2" stroke-width="1.2"/>
<line x1="396.80" y1="114.20" x2="400.60" y2="114.20" stroke="#4a82b2" stroke-width="1.2"/>
<line x1="410.77" y1="111.00" x2="410.77" y2="115.00" stroke="#4a82b2" stroke-width="1.2"/>
<line x1="408.87" y1="111.00" x2="412.67" y2="111.00" stroke="#4a82b2" stroke-width="1.2"/>
<line x1="408.87" y1="115.00" x2="412.67" y2="115.00" stroke="#4a82b2" stroke-width="1.2"/>
<polyline points="278.00,107.00 290.07,111.00 302.14,110.80 314.21,112.00 326.28,112.60 338.35,113.40 350.42,89.60 362.49,87.60 374.56,88.00 386.63,118.00 398.70,117.40 410.77,117.60" fill="none" stroke="#c8213b" stroke-width="1.5" stroke-linejoin="round"/>
<polyline points="278.00,100.60 290.07,104.60 302.14,106.60 314.21,107.60 326.28,107.80 338.35,108.60 350.42,59.00 362.49,57.00 374.56,65.60 386.63,112.60 398.70,112.20 410.77,113.00" fill="none" stroke="#0f4c81" stroke-width="1.7" stroke-linejoin="round"/>
<circle cx="278.00" cy="107.00" r="1.60" fill="#fff" stroke="#c8213b" stroke-width="0.9"/>
<rect x="288.47" y="109.40" width="3.20" height="3.20" fill="#fff" stroke="#c8213b" stroke-width="0.9"/>
<rect x="300.54" y="109.20" width="3.20" height="3.20" fill="#fff" stroke="#c8213b" stroke-width="0.9"/>
<path d="M314.21 110.00L316.21 113.60L312.21 113.60Z" fill="#fff" stroke="#c8213b" stroke-width="0.9" stroke-linejoin="miter"/>
<rect x="324.68" y="111.00" width="3.20" height="3.20" fill="#fff" stroke="#c8213b" stroke-width="0.9"/>
<path d="M338.35 111.40L340.35 115.00L336.35 115.00Z" fill="#fff" stroke="#c8213b" stroke-width="0.9" stroke-linejoin="miter"/>
<circle cx="350.42" cy="89.60" r="1.60" fill="#fff" stroke="#c8213b" stroke-width="0.9"/>
<circle cx="362.49" cy="87.60" r="1.60" fill="#fff" stroke="#c8213b" stroke-width="0.9"/>
<circle cx="374.56" cy="88.00" r="1.60" fill="#fff" stroke="#c8213b" stroke-width="0.9"/>
<path d="M386.63 116.00L388.63 119.60L384.63 119.60Z" fill="#fff" stroke="#c8213b" stroke-width="0.9" stroke-linejoin="miter"/>
<rect x="397.10" y="115.80" width="3.20" height="3.20" fill="#fff" stroke="#c8213b" stroke-width="0.9"/>
<path d="M410.77 115.60L412.77 119.20L408.77 119.20Z" fill="#fff" stroke="#c8213b" stroke-width="0.9" stroke-linejoin="miter"/>
<circle cx="278.00" cy="100.60" r="2.20" fill="#0f4c81" stroke="#0f4c81" stroke-width="0.5"/>
<rect x="288.17" y="102.70" width="3.80" height="3.80" fill="#0f4c81" stroke="#0f4c81" stroke-width="0.5"/>
<circle cx="302.14" cy="106.60" r="2.20" fill="#0f4c81" stroke="#0f4c81" stroke-width="0.5"/>
<circle cx="314.21" cy="107.60" r="2.20" fill="#0f4c81" stroke="#0f4c81" stroke-width="0.5"/>
<circle cx="326.28" cy="107.80" r="2.20" fill="#0f4c81" stroke="#0f4c81" stroke-width="0.5"/>
<circle cx="338.35" cy="108.60" r="2.20" fill="#0f4c81" stroke="#0f4c81" stroke-width="0.5"/>
<circle cx="350.42" cy="59.00" r="2.20" fill="#0f4c81" stroke="#0f4c81" stroke-width="0.5"/>
<circle cx="362.49" cy="57.00" r="2.20" fill="#0f4c81" stroke="#0f4c81" stroke-width="0.5"/>
<circle cx="374.56" cy="65.60" r="2.20" fill="#0f4c81" stroke="#0f4c81" stroke-width="0.5"/>
<circle cx="386.63" cy="112.60" r="2.20" fill="#0f4c81" stroke="#0f4c81" stroke-width="0.5"/>
<rect x="396.80" y="110.30" width="3.80" height="3.80" fill="#0f4c81" stroke="#0f4c81" stroke-width="0.5"/>
<circle cx="410.77" cy="113.00" r="2.20" fill="#0f4c81" stroke="#0f4c81" stroke-width="0.5"/>
<path d="M272.0 27.4H417.4V123.4" fill="none" stroke="#444444" stroke-width="1"/>
<line x1="272.00" y1="26.90" x2="272.00" y2="123.40" stroke="#444444" stroke-width="1.25"/>
<line x1="271.40" y1="123.40" x2="417.90" y2="123.40" stroke="#444444" stroke-width="1.25"/>
<line x1="268.40" y1="123.70" x2="272.00" y2="123.70" stroke="#444444" stroke-width="1"/>
<text transform="translate(267.00,126.50)" font-size="7.8" text-anchor="end" fill="#424242">0</text>
<line x1="268.40" y1="97.00" x2="272.00" y2="97.00" stroke="#444444" stroke-width="1"/>
<text transform="translate(267.00,99.80)" font-size="7.8" text-anchor="end" fill="#424242">50</text>
<line x1="268.40" y1="70.30" x2="272.00" y2="70.30" stroke="#444444" stroke-width="1"/>
<text transform="translate(267.00,73.10)" font-size="7.8" text-anchor="end" fill="#424242">100</text>
<line x1="268.40" y1="43.60" x2="272.00" y2="43.60" stroke="#444444" stroke-width="1"/>
<text transform="translate(267.00,46.40)" font-size="7.8" text-anchor="end" fill="#424242">150</text>
<line x1="278.00" y1="123.40" x2="278.00" y2="126.80" stroke="#444444" stroke-width="1"/>
<text transform="translate(278.00,135.80) scale(0.84,1)" font-size="7.6" text-anchor="middle" fill="#424242">2</text>
<line x1="290.07" y1="123.40" x2="290.07" y2="126.80" stroke="#444444" stroke-width="1"/>
<text transform="translate(290.07,135.80) scale(0.84,1)" font-size="7.6" text-anchor="middle" fill="#424242">13</text>
<line x1="302.14" y1="123.40" x2="302.14" y2="126.80" stroke="#444444" stroke-width="1"/>
<text transform="translate(302.14,135.80) scale(0.84,1)" font-size="7.6" text-anchor="middle" fill="#424242">25</text>
<line x1="314.21" y1="123.40" x2="314.21" y2="126.80" stroke="#444444" stroke-width="1"/>
<text transform="translate(314.21,135.80) scale(0.84,1)" font-size="7.6" text-anchor="middle" fill="#424242">36</text>
<line x1="326.28" y1="123.40" x2="326.28" y2="126.80" stroke="#444444" stroke-width="1"/>
<text transform="translate(326.28,135.80) scale(0.84,1)" font-size="7.6" text-anchor="middle" fill="#424242">48</text>
<line x1="338.35" y1="123.40" x2="338.35" y2="126.80" stroke="#444444" stroke-width="1"/>
<text transform="translate(338.35,135.80) scale(0.84,1)" font-size="7.6" text-anchor="middle" fill="#424242">60</text>
<line x1="350.42" y1="123.40" x2="350.42" y2="126.80" stroke="#444444" stroke-width="1"/>
<text transform="translate(350.42,135.80) scale(0.84,1)" font-size="7.6" text-anchor="middle" fill="#424242">71</text>
<line x1="362.49" y1="123.40" x2="362.49" y2="126.80" stroke="#444444" stroke-width="1"/>
<text transform="translate(362.49,135.80) scale(0.84,1)" font-size="7.6" text-anchor="middle" fill="#424242">83</text>
<line x1="374.56" y1="123.40" x2="374.56" y2="126.80" stroke="#444444" stroke-width="1"/>
<text transform="translate(374.56,135.80) scale(0.84,1)" font-size="7.6" text-anchor="middle" fill="#424242">94</text>
<line x1="386.63" y1="123.40" x2="386.63" y2="126.80" stroke="#444444" stroke-width="1"/>
<text transform="translate(386.63,135.80) scale(0.84,1)" font-size="7.6" text-anchor="middle" fill="#424242">106</text>
<line x1="398.70" y1="123.40" x2="398.70" y2="126.80" stroke="#444444" stroke-width="1"/>
<text transform="translate(398.70,135.80) scale(0.84,1)" font-size="7.6" text-anchor="middle" fill="#424242">117</text>
<line x1="410.77" y1="123.40" x2="410.77" y2="126.80" stroke="#444444" stroke-width="1"/>
<text transform="translate(410.77,135.80) scale(0.84,1)" font-size="7.6" text-anchor="middle" fill="#424242">129</text>
<text transform="translate(344.30,146.60) scale(0.88,1)" font-size="8.4" text-anchor="middle" fill="#424242">Time (min)</text>
<text transform="translate(249.20,75.50) rotate(-90) scale(0.88,1)" font-size="8.4" text-anchor="middle" fill="#424242">OCR (pmol/min)</text>
<text transform="translate(302.50,21.80) scale(1.2,1)" font-size="7.5" text-anchor="middle" fill="#555">Oligo</text>
<text transform="translate(338.70,21.80) scale(1.04,1)" font-size="7.5" text-anchor="middle" fill="#555">FCCP</text>
<text transform="translate(375.20,21.80) scale(1.06,1)" font-size="7.5" text-anchor="middle" fill="#555">R&amp;A</text>
<text x="350.72" y="41.47" font-size="9" text-anchor="middle" fill="#333">*</text>
<text x="362.79" y="41.47" font-size="9" text-anchor="middle" fill="#333">*</text>
<text x="374.86" y="41.47" font-size="9" text-anchor="middle" fill="#333">*</text>
<line x1="446.80" y1="24.20" x2="446.80" y2="123.40" stroke="#444444" stroke-width="1.2"/>
<line x1="446.20" y1="123.40" x2="511.00" y2="123.40" stroke="#444444" stroke-width="1.2"/>
<line x1="443.60" y1="123.40" x2="446.80" y2="123.40" stroke="#444444" stroke-width="1"/>
<text transform="translate(441.80,126.20)" font-size="7.8" text-anchor="end" fill="#424242">0</text>
<line x1="443.60" y1="91.40" x2="446.80" y2="91.40" stroke="#444444" stroke-width="1"/>
<text transform="translate(441.80,94.20)" font-size="7.8" text-anchor="end" fill="#424242">50</text>
<line x1="443.60" y1="59.40" x2="446.80" y2="59.40" stroke="#444444" stroke-width="1"/>
<text transform="translate(441.80,62.20)" font-size="7.8" text-anchor="end" fill="#424242">100</text>
<line x1="443.60" y1="27.40" x2="446.80" y2="27.40" stroke="#444444" stroke-width="1"/>
<text transform="translate(441.80,30.20)" font-size="7.8" text-anchor="end" fill="#424242">150</text>
<line x1="465.60" y1="69.20" x2="465.60" y2="71.00" stroke="#444" stroke-width="0.8"/>
<line x1="462.40" y1="69.20" x2="468.80" y2="69.20" stroke="#444" stroke-width="0.8"/>
<line x1="462.40" y1="71.00" x2="468.80" y2="71.00" stroke="#444" stroke-width="0.8"/>
<line x1="493.00" y1="51.80" x2="493.00" y2="54.00" stroke="#444" stroke-width="0.8"/>
<line x1="489.80" y1="51.80" x2="496.20" y2="51.80" stroke="#444" stroke-width="0.8"/>
<line x1="489.80" y1="54.00" x2="496.20" y2="54.00" stroke="#444" stroke-width="0.8"/>
<rect x="456.5" y="70.4" width="18.2" height="52.6" fill="#c8213b"/>
<rect x="483.9" y="53.5" width="18.1" height="69.5" fill="#0f4c81"/>
<line x1="463.80" y1="40.60" x2="492.40" y2="40.60" stroke="#555" stroke-width="0.9"/>
<text x="478.40" y="41.06" font-size="9" text-anchor="middle" fill="#333">*</text>
<text transform="translate(479.30,21.70) scale(1.07,1)" font-size="7.7" text-anchor="middle" fill="#444">Resp.max</text>
<line x1="159.30" y1="221.00" x2="159.30" y2="319.20" stroke="#444444" stroke-width="1.2"/>
<line x1="158.70" y1="319.20" x2="223.20" y2="319.20" stroke="#444444" stroke-width="1.2"/>
<line x1="156.10" y1="319.20" x2="159.30" y2="319.20" stroke="#444444" stroke-width="1"/>
<text transform="translate(154.30,322.00)" font-size="7.8" text-anchor="end" fill="#424242">0</text>
<line x1="156.10" y1="295.30" x2="159.30" y2="295.30" stroke="#444444" stroke-width="1"/>
<text transform="translate(154.30,298.10)" font-size="7.8" text-anchor="end" fill="#424242">5</text>
<line x1="156.10" y1="271.40" x2="159.30" y2="271.40" stroke="#444444" stroke-width="1"/>
<text transform="translate(154.30,274.20)" font-size="7.8" text-anchor="end" fill="#424242">10</text>
<line x1="156.10" y1="247.50" x2="159.30" y2="247.50" stroke="#444444" stroke-width="1"/>
<text transform="translate(154.30,250.30)" font-size="7.8" text-anchor="end" fill="#424242">15</text>
<line x1="156.10" y1="223.60" x2="159.30" y2="223.60" stroke="#444444" stroke-width="1"/>
<text transform="translate(154.30,226.40)" font-size="7.8" text-anchor="end" fill="#424242">20</text>
<line x1="177.50" y1="319.20" x2="177.50" y2="322.40" stroke="#444444" stroke-width="1"/>
<line x1="205.00" y1="319.20" x2="205.00" y2="322.40" stroke="#444444" stroke-width="1"/>
<text transform="translate(139.80,271.00) rotate(-90) scale(0.88,1)" font-size="8.4" text-anchor="middle" fill="#424242">ROS intensity</text>
<line x1="166.50" y1="276.66" x2="188.60" y2="276.66" stroke="#da4d66" stroke-width="1"/>
<circle cx="179.32" cy="272.38" r="2.00" fill="#fff" stroke="#c8213b" stroke-width="0.9"/>
<circle cx="181.05" cy="269.19" r="2.00" fill="#fff" stroke="#c8213b" stroke-width="0.9"/>
<circle cx="170.53" cy="277.27" r="2.00" fill="#fff" stroke="#c8213b" stroke-width="0.9"/>
<circle cx="184.06" cy="274.02" r="2.00" fill="#fff" stroke="#c8213b" stroke-width="0.9"/>
<circle cx="177.04" cy="281.14" r="2.00" fill="#fff" stroke="#c8213b" stroke-width="0.9"/>
<circle cx="178.15" cy="275.35" r="2.00" fill="#fff" stroke="#c8213b" stroke-width="0.9"/>
<circle cx="174.24" cy="269.29" r="2.00" fill="#fff" stroke="#c8213b" stroke-width="0.9"/>
<circle cx="181.43" cy="282.68" r="2.00" fill="#fff" stroke="#c8213b" stroke-width="0.9"/>
<circle cx="173.20" cy="281.69" r="2.00" fill="#fff" stroke="#c8213b" stroke-width="0.9"/>
<circle cx="183.33" cy="280.22" r="2.00" fill="#fff" stroke="#c8213b" stroke-width="0.9"/>
<circle cx="174.56" cy="274.83" r="2.00" fill="#fff" stroke="#c8213b" stroke-width="0.9"/>
<circle cx="182.21" cy="277.00" r="2.00" fill="#fff" stroke="#c8213b" stroke-width="0.9"/>
<circle cx="171.70" cy="272.26" r="2.00" fill="#fff" stroke="#c8213b" stroke-width="0.9"/>
<circle cx="174.22" cy="278.25" r="2.00" fill="#fff" stroke="#c8213b" stroke-width="0.9"/>
<circle cx="175.63" cy="284.86" r="2.00" fill="#fff" stroke="#c8213b" stroke-width="0.9"/>
<circle cx="177.59" cy="269.40" r="2.00" fill="#fff" stroke="#c8213b" stroke-width="0.9"/>
<circle cx="179.62" cy="278.87" r="2.00" fill="#fff" stroke="#c8213b" stroke-width="0.9"/>
<circle cx="179.35" cy="285.13" r="2.00" fill="#fff" stroke="#c8213b" stroke-width="0.9"/>
<circle cx="175.81" cy="271.99" r="2.00" fill="#fff" stroke="#c8213b" stroke-width="0.9"/>
<circle cx="177.50" cy="294.34" r="2.00" fill="#fff" stroke="#c8213b" stroke-width="0.9"/>
<circle cx="198.00" cy="249.89" r="2.10" fill="#0f4c81" stroke="#0f4c81" stroke-width="0.3"/>
<circle cx="201.80" cy="255.63" r="2.10" fill="#0f4c81" stroke="#0f4c81" stroke-width="0.3"/>
<circle cx="206.80" cy="255.63" r="2.10" fill="#0f4c81" stroke="#0f4c81" stroke-width="0.3"/>
<circle cx="212.00" cy="253.71" r="2.10" fill="#0f4c81" stroke="#0f4c81" stroke-width="0.3"/>
<circle cx="205.00" cy="263.75" r="2.10" fill="#0f4c81" stroke="#0f4c81" stroke-width="0.3"/>
<circle cx="201.00" cy="265.66" r="2.10" fill="#0f4c81" stroke="#0f4c81" stroke-width="0.3"/>
<circle cx="209.00" cy="266.14" r="2.10" fill="#0f4c81" stroke="#0f4c81" stroke-width="0.3"/>
<circle cx="198.00" cy="268.53" r="2.10" fill="#0f4c81" stroke="#0f4c81" stroke-width="0.3"/>
<circle cx="203.00" cy="268.05" r="2.10" fill="#0f4c81" stroke="#0f4c81" stroke-width="0.3"/>
<circle cx="207.50" cy="268.53" r="2.10" fill="#0f4c81" stroke="#0f4c81" stroke-width="0.3"/>
<circle cx="211.50" cy="268.05" r="2.10" fill="#0f4c81" stroke="#0f4c81" stroke-width="0.3"/>
<circle cx="200.00" cy="270.92" r="2.10" fill="#0f4c81" stroke="#0f4c81" stroke-width="0.3"/>
<circle cx="205.00" cy="270.44" r="2.10" fill="#0f4c81" stroke="#0f4c81" stroke-width="0.3"/>
<circle cx="209.50" cy="271.40" r="2.10" fill="#0f4c81" stroke="#0f4c81" stroke-width="0.3"/>
<circle cx="198.50" cy="273.31" r="2.10" fill="#0f4c81" stroke="#0f4c81" stroke-width="0.3"/>
<circle cx="202.50" cy="273.31" r="2.10" fill="#0f4c81" stroke="#0f4c81" stroke-width="0.3"/>
<circle cx="207.00" cy="273.79" r="2.10" fill="#0f4c81" stroke="#0f4c81" stroke-width="0.3"/>
<circle cx="211.00" cy="273.79" r="2.10" fill="#0f4c81" stroke="#0f4c81" stroke-width="0.3"/>
<circle cx="201.00" cy="276.18" r="2.10" fill="#0f4c81" stroke="#0f4c81" stroke-width="0.3"/>
<circle cx="205.50" cy="276.18" r="2.10" fill="#0f4c81" stroke="#0f4c81" stroke-width="0.3"/>
<circle cx="209.50" cy="275.70" r="2.10" fill="#0f4c81" stroke="#0f4c81" stroke-width="0.3"/>
<circle cx="202.50" cy="278.57" r="2.10" fill="#0f4c81" stroke="#0f4c81" stroke-width="0.3"/>
<circle cx="207.00" cy="278.09" r="2.10" fill="#0f4c81" stroke="#0f4c81" stroke-width="0.3"/>
<circle cx="208.00" cy="284.31" r="2.10" fill="#0f4c81" stroke="#0f4c81" stroke-width="0.3"/>
<circle cx="201.80" cy="302.47" r="2.10" fill="#0f4c81" stroke="#0f4c81" stroke-width="0.3"/>
<circle cx="207.60" cy="301.51" r="2.10" fill="#0f4c81" stroke="#0f4c81" stroke-width="0.3"/>
<line x1="193.60" y1="270.92" x2="216.30" y2="270.92" stroke="#4a82b2" stroke-width="1"/>
<line x1="177.30" y1="217.70" x2="206.00" y2="217.70" stroke="#555" stroke-width="0.9"/>
<text x="191.60" y="218.26" font-size="9" text-anchor="middle" fill="#333">*</text>
<line x1="400.00" y1="215.20" x2="400.00" y2="320.50" stroke="#444444" stroke-width="1.2"/>
<line x1="399.40" y1="320.50" x2="468.30" y2="320.50" stroke="#444444" stroke-width="1.2"/>
<line x1="396.80" y1="320.50" x2="400.00" y2="320.50" stroke="#444444" stroke-width="1"/>
<text transform="translate(395.00,323.30)" font-size="7.8" text-anchor="end" fill="#424242">0.0</text>
<line x1="396.80" y1="299.90" x2="400.00" y2="299.90" stroke="#444444" stroke-width="1"/>
<text transform="translate(395.00,302.70)" font-size="7.8" text-anchor="end" fill="#424242">0.5</text>
<line x1="396.80" y1="279.30" x2="400.00" y2="279.30" stroke="#444444" stroke-width="1"/>
<text transform="translate(395.00,282.10)" font-size="7.8" text-anchor="end" fill="#424242">1.0</text>
<line x1="396.80" y1="258.70" x2="400.00" y2="258.70" stroke="#444444" stroke-width="1"/>
<text transform="translate(395.00,261.50)" font-size="7.8" text-anchor="end" fill="#424242">1.5</text>
<line x1="396.80" y1="238.10" x2="400.00" y2="238.10" stroke="#444444" stroke-width="1"/>
<text transform="translate(395.00,240.90)" font-size="7.8" text-anchor="end" fill="#424242">2.0</text>
<line x1="396.80" y1="217.50" x2="400.00" y2="217.50" stroke="#444444" stroke-width="1"/>
<text transform="translate(395.00,220.30)" font-size="7.8" text-anchor="end" fill="#424242">2.5</text>
<line x1="417.00" y1="320.50" x2="417.00" y2="323.70" stroke="#444444" stroke-width="1"/>
<line x1="451.40" y1="320.50" x2="451.40" y2="323.70" stroke="#444444" stroke-width="1"/>
<text transform="translate(377.40,268.00) rotate(-90) scale(0.88,1)" font-size="8.4" text-anchor="middle" fill="#424242">Feret's diameter (µm)</text>
<line x1="403.00" y1="292.48" x2="430.80" y2="292.48" stroke="#da4d66" stroke-width="1"/>
<circle cx="417.93" cy="307.20" r="2.20" fill="#fff" stroke="#c8213b" stroke-width="0.9"/>
<path d="M419.18 299.28L421.56 303.56L416.81 303.56Z" fill="#fff" stroke="#c8213b" stroke-width="0.9" stroke-linejoin="miter"/>
<circle cx="407.88" cy="290.91" r="2.20" fill="#fff" stroke="#c8213b" stroke-width="0.9"/>
<path d="M411.42 303.93L413.80 308.20L409.05 308.20Z" fill="#fff" stroke="#c8213b" stroke-width="0.9" stroke-linejoin="miter"/>
<circle cx="416.38" cy="275.36" r="2.20" fill="#fff" stroke="#c8213b" stroke-width="0.9"/>
<path d="M416.50 279.68L418.88 283.95L414.13 283.95Z" fill="#fff" stroke="#c8213b" stroke-width="0.9" stroke-linejoin="miter"/>
<circle cx="424.73" cy="290.52" r="2.20" fill="#fff" stroke="#c8213b" stroke-width="0.9"/>
<path d="M422.07 292.84L424.44 297.12L419.69 297.12Z" fill="#fff" stroke="#c8213b" stroke-width="0.9" stroke-linejoin="miter"/>
<circle cx="418.91" cy="285.34" r="2.20" fill="#fff" stroke="#c8213b" stroke-width="0.9"/>
<path d="M424.96 284.62L427.33 288.90L422.58 288.90Z" fill="#fff" stroke="#c8213b" stroke-width="0.9" stroke-linejoin="miter"/>
<circle cx="423.32" cy="300.61" r="2.20" fill="#fff" stroke="#c8213b" stroke-width="0.9"/>
<path d="M426.15 296.14L428.52 300.42L423.77 300.42Z" fill="#fff" stroke="#c8213b" stroke-width="0.9" stroke-linejoin="miter"/>
<circle cx="408.55" cy="280.27" r="2.20" fill="#fff" stroke="#c8213b" stroke-width="0.9"/>
<path d="M412.82 288.49L415.20 292.77L410.45 292.77Z" fill="#fff" stroke="#c8213b" stroke-width="0.9" stroke-linejoin="miter"/>
<circle cx="414.60" cy="295.89" r="2.20" fill="#fff" stroke="#c8213b" stroke-width="0.9"/>
<path d="M427.31 278.84L429.69 283.11L424.94 283.11Z" fill="#fff" stroke="#c8213b" stroke-width="0.9" stroke-linejoin="miter"/>
<circle cx="409.93" cy="288.99" r="2.20" fill="#fff" stroke="#c8213b" stroke-width="0.9"/>
<path d="M418.45 276.81L420.83 281.09L416.08 281.09Z" fill="#fff" stroke="#c8213b" stroke-width="0.9" stroke-linejoin="miter"/>
<circle cx="409.67" cy="299.95" r="2.20" fill="#fff" stroke="#c8213b" stroke-width="0.9"/>
<path d="M422.64 302.48L425.02 306.75L420.27 306.75Z" fill="#fff" stroke="#c8213b" stroke-width="0.9" stroke-linejoin="miter"/>
<circle cx="413.45" cy="287.01" r="2.20" fill="#fff" stroke="#c8213b" stroke-width="0.9"/>
<path d="M415.07 306.53L417.44 310.81L412.69 310.81Z" fill="#fff" stroke="#c8213b" stroke-width="0.9" stroke-linejoin="miter"/>
<circle cx="414.43" cy="279.52" r="2.20" fill="#fff" stroke="#c8213b" stroke-width="0.9"/>
<path d="M417.42 295.48L419.80 299.76L415.05 299.76Z" fill="#fff" stroke="#c8213b" stroke-width="0.9" stroke-linejoin="miter"/>
<circle cx="419.01" cy="290.15" r="2.20" fill="#fff" stroke="#c8213b" stroke-width="0.9"/>
<path d="M419.52 291.33L421.90 295.60L417.15 295.60Z" fill="#fff" stroke="#c8213b" stroke-width="0.9" stroke-linejoin="miter"/>
<circle cx="406.74" cy="294.16" r="2.20" fill="#fff" stroke="#c8213b" stroke-width="0.9"/>
<path d="M419.43 313.99L421.81 318.26L417.06 318.26Z" fill="#fff" stroke="#c8213b" stroke-width="0.9" stroke-linejoin="miter"/>
<circle cx="416.29" cy="290.84" r="2.20" fill="#fff" stroke="#c8213b" stroke-width="0.9"/>
<path d="M422.00 285.12L424.37 289.40L419.62 289.40Z" fill="#fff" stroke="#c8213b" stroke-width="0.9" stroke-linejoin="miter"/>
<circle cx="426.73" cy="288.79" r="2.20" fill="#fff" stroke="#c8213b" stroke-width="0.9"/>
<path d="M413.07 299.53L415.44 303.81L410.69 303.81Z" fill="#fff" stroke="#c8213b" stroke-width="0.9" stroke-linejoin="miter"/>
<circle cx="414.42" cy="304.58" r="2.20" fill="#fff" stroke="#c8213b" stroke-width="0.9"/>
<path d="M407.07 282.37L409.44 286.65L404.69 286.65Z" fill="#fff" stroke="#c8213b" stroke-width="0.9" stroke-linejoin="miter"/>
<circle cx="411.51" cy="283.42" r="2.20" fill="#fff" stroke="#c8213b" stroke-width="0.9"/>
<path d="M410.51 292.57L412.88 296.85L408.13 296.85Z" fill="#fff" stroke="#c8213b" stroke-width="0.9" stroke-linejoin="miter"/>
<circle cx="424.11" cy="283.30" r="2.20" fill="#fff" stroke="#c8213b" stroke-width="0.9"/>
<path d="M412.35 307.11L414.73 311.39L409.98 311.39Z" fill="#fff" stroke="#c8213b" stroke-width="0.9" stroke-linejoin="miter"/>
<circle cx="415.10" cy="299.56" r="2.20" fill="#fff" stroke="#c8213b" stroke-width="0.9"/>
<path d="M411.16 275.86L413.54 280.13L408.79 280.13Z" fill="#fff" stroke="#c8213b" stroke-width="0.9" stroke-linejoin="miter"/>
<circle cx="421.07" cy="279.23" r="2.20" fill="#fff" stroke="#c8213b" stroke-width="0.9"/>
<path d="M425.33 276.00L427.70 280.28L422.95 280.28Z" fill="#fff" stroke="#c8213b" stroke-width="0.9" stroke-linejoin="miter"/>
<circle cx="412.20" cy="315.11" r="2.20" fill="#fff" stroke="#c8213b" stroke-width="0.9"/>
<path d="M417.04 311.21L419.42 315.48L414.67 315.48Z" fill="#fff" stroke="#c8213b" stroke-width="0.9" stroke-linejoin="miter"/>
<circle cx="414.49" cy="284.32" r="2.20" fill="#fff" stroke="#c8213b" stroke-width="0.9"/>
<path d="M411.65 295.46L414.02 299.74L409.27 299.74Z" fill="#fff" stroke="#c8213b" stroke-width="0.9" stroke-linejoin="miter"/>
<circle cx="423.89" cy="293.50" r="2.20" fill="#fff" stroke="#c8213b" stroke-width="0.9"/>
<path d="M409.87 283.42L412.25 287.69L407.50 287.69Z" fill="#fff" stroke="#c8213b" stroke-width="0.9" stroke-linejoin="miter"/>
<circle cx="420.00" cy="296.88" r="2.20" fill="#fff" stroke="#c8213b" stroke-width="0.9"/>
<path d="M421.57 304.96L423.95 309.24L419.20 309.24Z" fill="#fff" stroke="#c8213b" stroke-width="0.9" stroke-linejoin="miter"/>
<circle cx="410.20" cy="304.07" r="2.20" fill="#fff" stroke="#c8213b" stroke-width="0.9"/>
<path d="M421.53 311.95L423.91 316.22L419.16 316.22Z" fill="#fff" stroke="#c8213b" stroke-width="0.9" stroke-linejoin="miter"/>
<circle cx="412.18" cy="312.49" r="2.20" fill="#fff" stroke="#c8213b" stroke-width="0.9"/>
<path d="M421.77 282.09L424.15 286.37L419.40 286.37Z" fill="#fff" stroke="#c8213b" stroke-width="0.9" stroke-linejoin="miter"/>
<circle cx="421.76" cy="291.93" r="2.20" fill="#fff" stroke="#c8213b" stroke-width="0.9"/>
<path d="M426.64 291.04L429.01 295.32L424.26 295.32Z" fill="#fff" stroke="#c8213b" stroke-width="0.9" stroke-linejoin="miter"/>
<circle cx="417.79" cy="287.82" r="2.20" fill="#fff" stroke="#c8213b" stroke-width="0.9"/>
<path d="M407.57 285.27L409.95 289.54L405.20 289.54Z" fill="#fff" stroke="#c8213b" stroke-width="0.9" stroke-linejoin="miter"/>
<circle cx="419.71" cy="282.97" r="2.20" fill="#fff" stroke="#c8213b" stroke-width="0.9"/>
<path d="M407.22 275.32L409.59 279.60L404.84 279.60Z" fill="#fff" stroke="#c8213b" stroke-width="0.9" stroke-linejoin="miter"/>
<circle cx="419.25" cy="304.40" r="2.20" fill="#fff" stroke="#c8213b" stroke-width="0.9"/>
<path d="M414.69 310.01L417.06 314.28L412.31 314.28Z" fill="#fff" stroke="#c8213b" stroke-width="0.9" stroke-linejoin="miter"/>
<circle cx="420.04" cy="310.79" r="2.20" fill="#fff" stroke="#c8213b" stroke-width="0.9"/>
<path d="M416.68 300.28L419.05 304.56L414.30 304.56Z" fill="#fff" stroke="#c8213b" stroke-width="0.9" stroke-linejoin="miter"/>
<circle cx="413.54" cy="275.36" r="2.20" fill="#fff" stroke="#c8213b" stroke-width="0.9"/>
<path d="M425.83 272.92L428.20 277.19L423.45 277.19Z" fill="#fff" stroke="#c8213b" stroke-width="0.9" stroke-linejoin="miter"/>
<circle cx="423.00" cy="276.05" r="2.20" fill="#fff" stroke="#c8213b" stroke-width="0.9"/>
<path d="M427.32 281.46L429.70 285.74L424.95 285.74Z" fill="#fff" stroke="#c8213b" stroke-width="0.9" stroke-linejoin="miter"/>
<circle cx="420.39" cy="275.93" r="2.20" fill="#fff" stroke="#c8213b" stroke-width="0.9"/>
<path d="M426.52 293.61L428.89 297.89L424.14 297.89Z" fill="#fff" stroke="#c8213b" stroke-width="0.9" stroke-linejoin="miter"/>
<circle cx="410.03" cy="275.20" r="2.20" fill="#fff" stroke="#c8213b" stroke-width="0.9"/>
<path d="M416.44 314.34L418.82 318.62L414.07 318.62Z" fill="#fff" stroke="#c8213b" stroke-width="0.9" stroke-linejoin="miter"/>
<circle cx="416.56" cy="294.31" r="2.20" fill="#fff" stroke="#c8213b" stroke-width="0.9"/>
<path d="M407.44 294.29L409.81 298.56L405.06 298.56Z" fill="#fff" stroke="#c8213b" stroke-width="0.9" stroke-linejoin="miter"/>
<circle cx="421.24" cy="299.19" r="2.20" fill="#fff" stroke="#c8213b" stroke-width="0.9"/>
<path d="M412.87 291.25L415.24 295.53L410.49 295.53Z" fill="#fff" stroke="#c8213b" stroke-width="0.9" stroke-linejoin="miter"/>
<circle cx="413.92" cy="316.98" r="2.20" fill="#fff" stroke="#c8213b" stroke-width="0.9"/>
<path d="M424.44 300.54L426.81 304.81L422.06 304.81Z" fill="#fff" stroke="#c8213b" stroke-width="0.9" stroke-linejoin="miter"/>
<path d="M417.00 238.61L419.38 242.88L414.62 242.88Z" fill="#fff" stroke="#c8213b" stroke-width="0.9" stroke-linejoin="miter"/>
<path d="M424.50 249.73L426.88 254.01L422.12 254.01Z" fill="#fff" stroke="#c8213b" stroke-width="0.9" stroke-linejoin="miter"/>
<circle cx="409.50" cy="254.58" r="2.20" fill="#fff" stroke="#c8213b" stroke-width="0.9"/>
<path d="M417.00 254.68L419.38 258.95L414.62 258.95Z" fill="#fff" stroke="#c8213b" stroke-width="0.9" stroke-linejoin="miter"/>
<circle cx="409.50" cy="264.06" r="2.20" fill="#fff" stroke="#c8213b" stroke-width="0.9"/>
<path d="M417.00 265.80L419.38 270.08L414.62 270.08Z" fill="#fff" stroke="#c8213b" stroke-width="0.9" stroke-linejoin="miter"/>
<path d="M424.50 265.80L426.88 270.08L422.12 270.08Z" fill="#fff" stroke="#c8213b" stroke-width="0.9" stroke-linejoin="miter"/>
<path d="M409.00 272.81L411.38 277.08L406.62 277.08Z" fill="#fff" stroke="#c8213b" stroke-width="0.9" stroke-linejoin="miter"/>
<circle cx="426.00" cy="275.18" r="2.20" fill="#fff" stroke="#c8213b" stroke-width="0.9"/>
<path d="M420.00 271.57L422.38 275.84L417.62 275.84Z" fill="#fff" stroke="#c8213b" stroke-width="0.9" stroke-linejoin="miter"/>
<circle cx="457.73" cy="273.68" r="2.15" fill="#0f4c81" stroke="#0f4c81" stroke-width="0.3"/>
<circle cx="457.22" cy="254.81" r="2.15" fill="#0f4c81" stroke="#0f4c81" stroke-width="0.3"/>
<circle cx="449.42" cy="245.17" r="2.15" fill="#0f4c81" stroke="#0f4c81" stroke-width="0.3"/>
<circle cx="445.18" cy="244.94" r="2.15" fill="#0f4c81" stroke="#0f4c81" stroke-width="0.3"/>
<circle cx="446.96" cy="272.00" r="2.15" fill="#0f4c81" stroke="#0f4c81" stroke-width="0.3"/>
<circle cx="452.28" cy="280.00" r="2.15" fill="#0f4c81" stroke="#0f4c81" stroke-width="0.3"/>
<circle cx="447.93" cy="252.40" r="2.15" fill="#0f4c81" stroke="#0f4c81" stroke-width="0.3"/>
<circle cx="459.79" cy="240.88" r="2.15" fill="#0f4c81" stroke="#0f4c81" stroke-width="0.3"/>
<circle cx="451.55" cy="288.30" r="2.15" fill="#0f4c81" stroke="#0f4c81" stroke-width="0.3"/>
<circle cx="449.98" cy="260.99" r="2.15" fill="#0f4c81" stroke="#0f4c81" stroke-width="0.3"/>
<circle cx="459.31" cy="262.72" r="2.15" fill="#0f4c81" stroke="#0f4c81" stroke-width="0.3"/>
<circle cx="454.67" cy="290.12" r="2.15" fill="#0f4c81" stroke="#0f4c81" stroke-width="0.3"/>
<circle cx="458.61" cy="288.49" r="2.15" fill="#0f4c81" stroke="#0f4c81" stroke-width="0.3"/>
<circle cx="454.21" cy="272.58" r="2.15" fill="#0f4c81" stroke="#0f4c81" stroke-width="0.3"/>
<circle cx="460.97" cy="259.30" r="2.15" fill="#0f4c81" stroke="#0f4c81" stroke-width="0.3"/>
<circle cx="446.16" cy="259.81" r="2.15" fill="#0f4c81" stroke="#0f4c81" stroke-width="0.3"/>
<circle cx="448.09" cy="229.04" r="2.15" fill="#0f4c81" stroke="#0f4c81" stroke-width="0.3"/>
<circle cx="445.27" cy="284.38" r="2.15" fill="#0f4c81" stroke="#0f4c81" stroke-width="0.3"/>
<circle cx="459.86" cy="244.59" r="2.15" fill="#0f4c81" stroke="#0f4c81" stroke-width="0.3"/>
<circle cx="460.98" cy="253.46" r="2.15" fill="#0f4c81" stroke="#0f4c81" stroke-width="0.3"/>
<circle cx="459.50" cy="279.25" r="2.15" fill="#0f4c81" stroke="#0f4c81" stroke-width="0.3"/>
<circle cx="445.39" cy="241.15" r="2.15" fill="#0f4c81" stroke="#0f4c81" stroke-width="0.3"/>
<circle cx="451.18" cy="265.64" r="2.15" fill="#0f4c81" stroke="#0f4c81" stroke-width="0.3"/>
<circle cx="447.88" cy="277.11" r="2.15" fill="#0f4c81" stroke="#0f4c81" stroke-width="0.3"/>
<circle cx="450.16" cy="283.66" r="2.15" fill="#0f4c81" stroke="#0f4c81" stroke-width="0.3"/>
<circle cx="456.23" cy="285.41" r="2.15" fill="#0f4c81" stroke="#0f4c81" stroke-width="0.3"/>
<circle cx="456.73" cy="293.40" r="2.15" fill="#0f4c81" stroke="#0f4c81" stroke-width="0.3"/>
<circle cx="455.40" cy="257.57" r="2.15" fill="#0f4c81" stroke="#0f4c81" stroke-width="0.3"/>
<circle cx="456.25" cy="280.89" r="2.15" fill="#0f4c81" stroke="#0f4c81" stroke-width="0.3"/>
<circle cx="453.42" cy="227.38" r="2.15" fill="#0f4c81" stroke="#0f4c81" stroke-width="0.3"/>
<circle cx="458.33" cy="266.38" r="2.15" fill="#0f4c81" stroke="#0f4c81" stroke-width="0.3"/>
<circle cx="449.12" cy="239.08" r="2.15" fill="#0f4c81" stroke="#0f4c81" stroke-width="0.3"/>
<circle cx="443.25" cy="279.56" r="2.15" fill="#0f4c81" stroke="#0f4c81" stroke-width="0.3"/>
<circle cx="452.10" cy="276.09" r="2.15" fill="#0f4c81" stroke="#0f4c81" stroke-width="0.3"/>
<circle cx="441.73" cy="259.15" r="2.15" fill="#0f4c81" stroke="#0f4c81" stroke-width="0.3"/>
<circle cx="454.56" cy="265.36" r="2.15" fill="#0f4c81" stroke="#0f4c81" stroke-width="0.3"/>
<circle cx="446.44" cy="280.55" r="2.15" fill="#0f4c81" stroke="#0f4c81" stroke-width="0.3"/>
<circle cx="443.22" cy="274.05" r="2.15" fill="#0f4c81" stroke="#0f4c81" stroke-width="0.3"/>
<circle cx="453.86" cy="236.33" r="2.15" fill="#0f4c81" stroke="#0f4c81" stroke-width="0.3"/>
<circle cx="450.83" cy="248.87" r="2.15" fill="#0f4c81" stroke="#0f4c81" stroke-width="0.3"/>
<circle cx="449.97" cy="292.64" r="2.15" fill="#0f4c81" stroke="#0f4c81" stroke-width="0.3"/>
<circle cx="459.40" cy="269.88" r="2.15" fill="#0f4c81" stroke="#0f4c81" stroke-width="0.3"/>
<circle cx="459.76" cy="248.82" r="2.15" fill="#0f4c81" stroke="#0f4c81" stroke-width="0.3"/>
<circle cx="457.09" cy="231.14" r="2.15" fill="#0f4c81" stroke="#0f4c81" stroke-width="0.3"/>
<circle cx="444.19" cy="250.49" r="2.15" fill="#0f4c81" stroke="#0f4c81" stroke-width="0.3"/>
<circle cx="442.95" cy="266.30" r="2.15" fill="#0f4c81" stroke="#0f4c81" stroke-width="0.3"/>
<circle cx="452.81" cy="243.77" r="2.15" fill="#0f4c81" stroke="#0f4c81" stroke-width="0.3"/>
<circle cx="441.60" cy="262.87" r="2.15" fill="#0f4c81" stroke="#0f4c81" stroke-width="0.3"/>
<circle cx="445.41" cy="235.82" r="2.15" fill="#0f4c81" stroke="#0f4c81" stroke-width="0.3"/>
<circle cx="450.64" cy="232.37" r="2.15" fill="#0f4c81" stroke="#0f4c81" stroke-width="0.3"/>
<circle cx="443.45" cy="254.11" r="2.15" fill="#0f4c81" stroke="#0f4c81" stroke-width="0.3"/>
<circle cx="446.85" cy="291.23" r="2.15" fill="#0f4c81" stroke="#0f4c81" stroke-width="0.3"/>
<circle cx="446.78" cy="263.46" r="2.15" fill="#0f4c81" stroke="#0f4c81" stroke-width="0.3"/>
<circle cx="447.61" cy="267.12" r="2.15" fill="#0f4c81" stroke="#0f4c81" stroke-width="0.3"/>
<circle cx="442.64" cy="270.59" r="2.15" fill="#0f4c81" stroke="#0f4c81" stroke-width="0.3"/>
<circle cx="455.20" cy="246.13" r="2.15" fill="#0f4c81" stroke="#0f4c81" stroke-width="0.3"/>
<circle cx="457.84" cy="237.32" r="2.15" fill="#0f4c81" stroke="#0f4c81" stroke-width="0.3"/>
<circle cx="442.16" cy="247.83" r="2.15" fill="#0f4c81" stroke="#0f4c81" stroke-width="0.3"/>
<circle cx="450.66" cy="270.24" r="2.15" fill="#0f4c81" stroke="#0f4c81" stroke-width="0.3"/>
<circle cx="443.24" cy="238.43" r="2.15" fill="#0f4c81" stroke="#0f4c81" stroke-width="0.3"/>
<circle cx="453.80" cy="250.35" r="2.15" fill="#0f4c81" stroke="#0f4c81" stroke-width="0.3"/>
<circle cx="459.13" cy="282.83" r="2.15" fill="#0f4c81" stroke="#0f4c81" stroke-width="0.3"/>
<line x1="437.00" y1="262.82" x2="465.50" y2="262.82" stroke="#4a82b2" stroke-width="1"/>
<line x1="418.50" y1="217.40" x2="447.70" y2="217.40" stroke="#555" stroke-width="0.9"/>
<text x="433.00" y="217.76" font-size="9" text-anchor="middle" fill="#333">*</text>
<line x1="271.30" y1="390.20" x2="271.30" y2="495.80" stroke="#444444" stroke-width="1.2"/>
<line x1="270.70" y1="495.80" x2="340.20" y2="495.80" stroke="#444444" stroke-width="1.2"/>
<line x1="268.10" y1="495.80" x2="271.30" y2="495.80" stroke="#444444" stroke-width="1"/>
<text transform="translate(266.30,498.60)" font-size="7.8" text-anchor="end" fill="#424242">0.0</text>
<line x1="268.10" y1="461.50" x2="271.30" y2="461.50" stroke="#444444" stroke-width="1"/>
<text transform="translate(266.30,464.30)" font-size="7.8" text-anchor="end" fill="#424242">0.5</text>
<line x1="268.10" y1="427.20" x2="271.30" y2="427.20" stroke="#444444" stroke-width="1"/>
<text transform="translate(266.30,430.00)" font-size="7.8" text-anchor="end" fill="#424242">1.0</text>
<line x1="268.10" y1="392.90" x2="271.30" y2="392.90" stroke="#444444" stroke-width="1"/>
<text transform="translate(266.30,395.70)" font-size="7.8" text-anchor="end" fill="#424242">1.5</text>
<line x1="288.60" y1="495.80" x2="288.60" y2="499.00" stroke="#444444" stroke-width="1"/>
<line x1="322.60" y1="495.80" x2="322.60" y2="499.00" stroke="#444444" stroke-width="1"/>
<text transform="translate(249.00,444.00) rotate(-90) scale(0.88,1)" font-size="8.4" text-anchor="middle" fill="#424242">Feret's diameter (µm)</text>
<line x1="277.60" y1="449.15" x2="300.00" y2="449.15" stroke="#da4d66" stroke-width="1"/>
<circle cx="288.60" cy="417.60" r="2.20" fill="#fff" stroke="#c8213b" stroke-width="0.9"/>
<circle cx="288.60" cy="429.26" r="2.20" fill="#fff" stroke="#c8213b" stroke-width="0.9"/>
<circle cx="288.60" cy="438.86" r="2.20" fill="#fff" stroke="#c8213b" stroke-width="0.9"/>
<circle cx="292.60" cy="441.61" r="2.20" fill="#fff" stroke="#c8213b" stroke-width="0.9"/>
<path d="M284.60 441.29L286.98 445.56L282.23 445.56Z" fill="#fff" stroke="#c8213b" stroke-width="0.9" stroke-linejoin="miter"/>
<path d="M288.60 442.66L290.98 446.94L286.23 446.94Z" fill="#fff" stroke="#c8213b" stroke-width="0.9" stroke-linejoin="miter"/>
<path d="M295.10 444.03L297.48 448.31L292.73 448.31Z" fill="#fff" stroke="#c8213b" stroke-width="0.9" stroke-linejoin="miter"/>
<circle cx="282.10" cy="447.78" r="2.20" fill="#fff" stroke="#c8213b" stroke-width="0.9"/>
<path d="M286.60 446.78L288.98 451.05L284.23 451.05Z" fill="#fff" stroke="#c8213b" stroke-width="0.9" stroke-linejoin="miter"/>
<circle cx="291.60" cy="449.84" r="2.20" fill="#fff" stroke="#c8213b" stroke-width="0.9"/>
<path d="M296.60 448.84L298.98 453.11L294.23 453.11Z" fill="#fff" stroke="#c8213b" stroke-width="0.9" stroke-linejoin="miter"/>
<path d="M280.60 450.21L282.98 454.48L278.23 454.48Z" fill="#fff" stroke="#c8213b" stroke-width="0.9" stroke-linejoin="miter"/>
<circle cx="284.60" cy="453.27" r="2.20" fill="#fff" stroke="#c8213b" stroke-width="0.9"/>
<path d="M289.60 451.58L291.98 455.85L287.23 455.85Z" fill="#fff" stroke="#c8213b" stroke-width="0.9" stroke-linejoin="miter"/>
<circle cx="293.60" cy="454.64" r="2.20" fill="#fff" stroke="#c8213b" stroke-width="0.9"/>
<circle cx="286.60" cy="456.70" r="2.20" fill="#fff" stroke="#c8213b" stroke-width="0.9"/>
<path d="M291.10 455.01L293.48 459.28L288.73 459.28Z" fill="#fff" stroke="#c8213b" stroke-width="0.9" stroke-linejoin="miter"/>
<path d="M288.60 456.38L290.98 460.66L286.23 460.66Z" fill="#fff" stroke="#c8213b" stroke-width="0.9" stroke-linejoin="miter"/>
<circle cx="288.60" cy="469.73" r="2.20" fill="#fff" stroke="#c8213b" stroke-width="0.9"/>
<circle cx="322.60" cy="421.71" r="2.20" fill="#0f4c81" stroke="#0f4c81" stroke-width="0.3"/>
<circle cx="326.10" cy="425.83" r="2.20" fill="#0f4c81" stroke="#0f4c81" stroke-width="0.3"/>
<circle cx="319.60" cy="429.94" r="2.20" fill="#0f4c81" stroke="#0f4c81" stroke-width="0.3"/>
<circle cx="316.60" cy="435.43" r="2.20" fill="#0f4c81" stroke="#0f4c81" stroke-width="0.3"/>
<circle cx="328.60" cy="435.43" r="2.20" fill="#0f4c81" stroke="#0f4c81" stroke-width="0.3"/>
<circle cx="322.60" cy="436.80" r="2.20" fill="#0f4c81" stroke="#0f4c81" stroke-width="0.3"/>
<circle cx="318.10" cy="439.55" r="2.20" fill="#0f4c81" stroke="#0f4c81" stroke-width="0.3"/>
<circle cx="326.60" cy="440.23" r="2.20" fill="#0f4c81" stroke="#0f4c81" stroke-width="0.3"/>
<circle cx="315.10" cy="442.29" r="2.20" fill="#0f4c81" stroke="#0f4c81" stroke-width="0.3"/>
<circle cx="323.10" cy="442.29" r="2.20" fill="#0f4c81" stroke="#0f4c81" stroke-width="0.3"/>
<circle cx="325.60" cy="445.04" r="2.20" fill="#0f4c81" stroke="#0f4c81" stroke-width="0.3"/>
<circle cx="321.10" cy="446.41" r="2.20" fill="#0f4c81" stroke="#0f4c81" stroke-width="0.3"/>
<line x1="311.30" y1="436.46" x2="334.40" y2="436.46" stroke="#4a82b2" stroke-width="1"/>
<line x1="290.00" y1="394.80" x2="318.80" y2="394.80" stroke="#555" stroke-width="0.9"/>
<text x="304.70" y="395.26" font-size="9" text-anchor="middle" fill="#333">*</text>
<text transform="translate(20.20,244.30) rotate(-90)" font-size="7.8" text-anchor="middle" fill="#222">CTRL</text>
<text transform="translate(20.4,342) rotate(-90) scale(1.08,1)" font-size="8" text-anchor="start" fill="#222">O5A<tspan dy="-2.9" font-size="5.2">Δ/Δ</tspan></text>
<text transform="translate(251.20,244.90) rotate(-90)" font-size="7.8" text-anchor="middle" fill="#222">CTRL</text>
<text transform="translate(251.4,341.4) rotate(-90) scale(1.08,1)" font-size="8" text-anchor="start" fill="#222">O5A<tspan dy="-2.9" font-size="5.2">Δ/Δ</tspan></text>
<text transform="translate(78.90,403.80)" font-size="7.8" text-anchor="middle" fill="#222">CTRL</text>
<text transform="translate(164.8,403.8) scale(1.08,1)" font-size="8" text-anchor="start" fill="#222">O5A<tspan dy="-2.9" font-size="5.2">Δ/Δ</tspan></text>
</svg>
<div id="frame"></div>
</body></html>
